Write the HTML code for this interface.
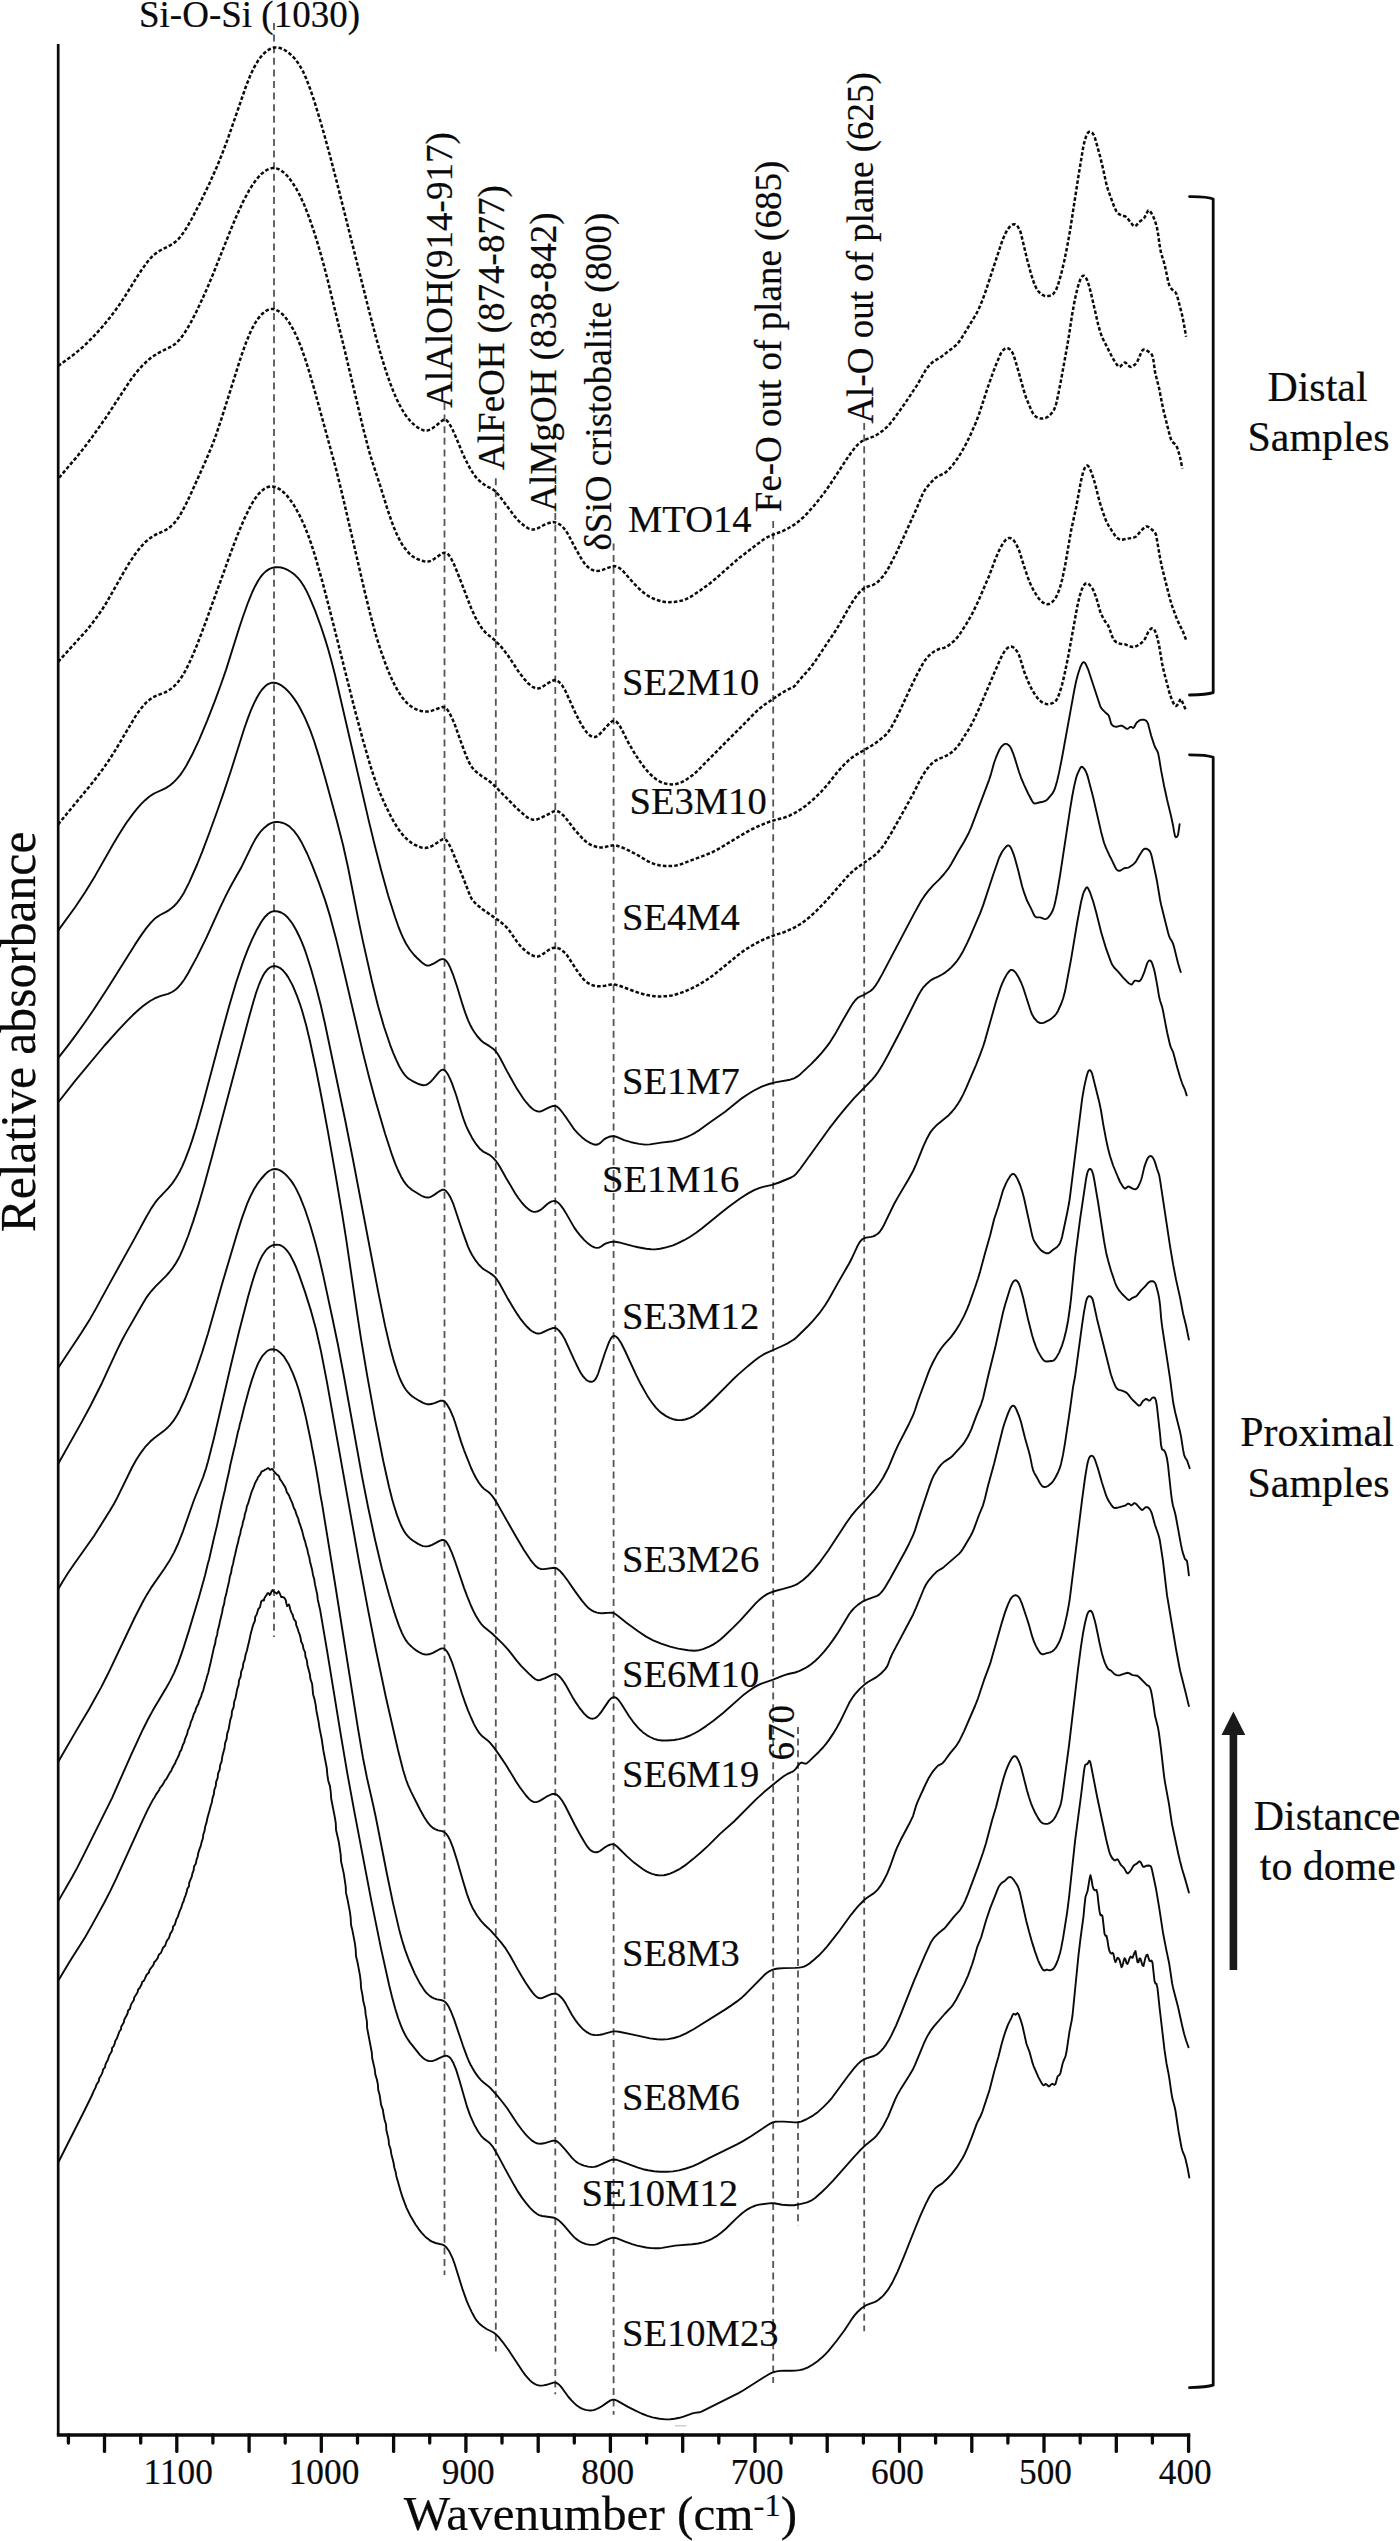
<!DOCTYPE html>
<html lang="en"><head><meta charset="utf-8"><title>FTIR spectra</title>
<style>
html,body{margin:0;padding:0;background:#fff;}
body{width:1400px;height:2541px;overflow:hidden;}
svg{display:block;}
text{font-family:"Liberation Serif",serif;fill:#0a0a0a;stroke:#0a0a0a;stroke-width:0.2px;}
.tk{stroke:#0a0a0a;stroke-width:3.3;fill:none;stroke-linecap:round;}
.dl{stroke:#555;stroke-width:1.8;stroke-dasharray:7 4.6;fill:none;}
.cv{stroke:#0a0a0a;stroke-width:1.9;fill:none;stroke-linejoin:round;stroke-linecap:round;}
.dt{stroke:#0a0a0a;stroke-width:2.5;fill:none;stroke-linejoin:round;stroke-dasharray:3.6 2.1;}
.br{stroke:#0a0a0a;stroke-width:2.8;fill:none;stroke-linejoin:round;stroke-linecap:round;}
.s38{font-size:38.6px;}
.s36{font-size:37px;}
.s41{font-size:41.9px;}
.s34{font-size:35.3px;}
.s48{font-size:48px;}
</style></head><body>
<svg width="1400" height="2541" viewBox="0 0 1400 2541">
<rect width="1400" height="2541" fill="#fff"/>

<line class="dl" x1="274" y1="23" x2="274" y2="1637"/>
<line class="dl" x1="444.5" y1="403" x2="444.5" y2="2275"/>
<line class="dl" x1="495.8" y1="478.3" x2="495.8" y2="2351.6"/>
<line class="dl" x1="555.3" y1="513" x2="555.3" y2="2394.3"/>
<line class="dl" x1="613.6" y1="543.5" x2="613.6" y2="2414.7"/>
<line class="dl" x1="773.2" y1="521" x2="773.2" y2="2383"/>
<line class="dl" x1="798" y1="1727" x2="798" y2="2226"/>
<line class="dl" x1="864.2" y1="423" x2="864.2" y2="2331.3"/>
<path class="dt" d="M58.1 366.0L73.1 355.1L82.1 347.7L87.1 343.0L92.1 338.0L97.1 332.7L103.1 325.9L111.1 316.1L118.1 306.6L124.1 297.7L136.1 278.4L142.1 269.2L147.1 262.3L151.1 257.6L154.1 254.7L158.1 251.7L161.1 250.0L170.1 245.4L175.1 242.1L178.1 239.3L180.1 237.1L184.1 231.8L187.1 227.0L191.1 220.0L200.1 202.8L209.1 184.2L217.1 166.3L222.1 154.0L228.1 138.0L246.1 86.0L250.1 75.9L253.1 69.4L255.1 65.6L258.1 60.6L261.1 56.5L264.1 53.3L267.1 50.7L270.1 48.9L273.1 47.8L276.1 47.4L278.1 47.6L280.1 48.0L282.1 48.8L285.1 50.3L288.1 52.4L290.1 54.0L293.1 56.8L295.1 59.0L299.1 64.4L303.1 71.6L306.1 78.3L310.1 88.7L314.1 100.5L319.1 116.8L324.1 134.1L330.1 156.1L338.1 187.1L369.1 311.0L375.1 334.0L380.1 352.0L384.1 365.3L387.1 374.5L390.1 383.0L393.1 390.7L396.1 397.8L399.1 404.1L402.1 409.6L405.1 414.4L407.1 417.2L410.1 420.8L412.1 422.9L415.1 425.6L417.1 427.1L420.1 429.0L423.1 430.2L425.1 430.6L427.1 430.6L430.1 429.6L432.1 428.5L435.1 426.4L441.1 421.4L443.1 420.0L444.1 419.7L445.1 419.6L446.1 420.0L447.1 420.8L449.1 423.3L452.1 428.6L456.1 437.5L462.1 452.2L465.1 458.9L470.1 468.5L474.1 474.9L476.1 477.4L478.1 479.6L482.1 483.1L486.1 485.9L492.1 488.9L494.1 490.2L496.1 492.1L499.1 495.6L515.1 516.9L518.1 520.3L522.1 524.1L525.1 526.4L528.1 528.3L531.1 529.4L533.1 529.6L536.1 529.0L538.1 528.2L544.1 524.9L548.1 523.3L551.1 522.4L553.1 522.1L555.1 522.3L558.1 523.4L560.1 524.7L562.1 526.3L564.1 528.5L566.1 531.1L568.1 534.3L575.1 547.7L582.1 560.0L585.1 564.2L587.1 566.3L589.1 568.0L591.1 569.3L593.1 570.2L595.1 570.8L597.1 570.9L599.1 570.7L603.1 569.7L612.1 566.3L614.1 566.1L615.1 566.2L618.1 567.2L620.1 568.5L623.1 571.2L634.1 583.7L639.1 588.7L643.1 592.2L647.1 595.2L650.1 597.0L653.1 598.5L657.1 600.0L661.1 601.2L665.1 601.9L669.1 602.2L674.1 602.0L678.1 601.4L682.1 600.5L686.1 599.1L690.1 597.1L694.1 594.6L700.1 590.5L710.1 583.2L717.1 577.4L739.1 558.0L763.1 539.8L766.1 537.9L768.1 536.8L773.1 534.7L783.1 530.9L787.1 528.9L791.1 526.7L795.1 524.1L799.1 521.1L803.1 517.5L807.1 513.5L816.1 503.3L824.1 493.0L830.1 484.4L848.1 457.0L852.1 451.3L856.1 446.3L859.1 443.2L862.1 441.1L866.1 439.4L873.1 436.7L876.1 435.2L878.1 434.0L883.1 430.4L887.1 426.9L890.1 423.6L894.1 418.5L904.1 404.6L917.1 385.1L925.1 371.0L927.1 368.1L929.1 365.6L931.1 363.5L933.1 361.8L942.1 356.2L953.1 347.7L956.1 345.1L959.1 341.7L962.1 337.2L975.1 315.9L977.1 312.3L979.1 308.1L982.1 301.0L985.1 292.9L1001.1 244.2L1003.1 238.7L1005.1 234.1L1007.1 230.2L1009.1 227.5L1011.1 225.5L1013.1 224.4L1014.1 224.2L1015.1 224.4L1016.1 224.9L1017.1 225.7L1018.1 227.0L1020.1 230.9L1021.1 234.1L1027.1 259.2L1031.1 274.2L1034.1 283.3L1036.1 287.8L1037.1 289.5L1038.1 291.0L1040.1 293.2L1042.1 294.7L1044.1 295.7L1046.1 296.1L1049.1 295.9L1051.1 295.4L1053.1 294.1L1055.1 291.5L1056.1 289.7L1058.1 284.8L1061.1 274.3L1064.1 261.7L1067.1 247.0L1070.1 230.3L1078.1 178.3L1083.1 147.9L1084.1 143.2L1086.1 136.3L1087.1 134.0L1088.1 132.5L1089.1 131.8L1090.1 131.7L1091.1 132.0L1092.1 132.7L1093.1 133.9L1094.1 135.7L1095.1 138.3L1100.1 156.4L1103.1 168.9L1106.1 182.8L1108.1 190.1L1114.1 206.5L1116.1 210.8L1117.1 212.4L1119.1 214.2L1122.1 215.9L1125.1 216.3L1126.1 216.8L1127.1 217.8L1132.1 224.3L1133.1 225.5L1134.1 226.3L1135.1 226.3L1136.1 225.6L1139.1 222.0L1143.1 219.1L1144.1 218.1L1145.1 216.5L1148.1 210.5L1149.1 210.6L1150.1 211.4L1151.1 212.6L1153.1 216.2L1155.1 221.0L1157.1 228.2L1158.1 234.1L1160.1 248.5L1161.1 253.1L1164.1 262.9L1165.1 266.8L1168.1 281.0L1169.1 284.7L1170.1 287.1L1171.1 288.4L1173.1 290.6L1175.1 291.9L1176.1 293.2L1177.1 295.6L1182.1 315.0L1184.1 325.1L1186.1 336.8"/>
<path class="dt" d="M59.1 477.7L77.1 456.5L84.1 447.7L92.1 437.1L105.1 418.7L130.1 380.8L135.1 374.0L139.1 369.2L142.1 365.9L146.1 362.0L150.1 358.5L153.1 356.3L159.1 352.6L171.1 346.7L175.1 344.0L179.1 340.2L183.1 335.1L187.1 329.0L191.1 321.9L196.1 312.2L202.1 299.5L207.1 288.3L213.1 274.0L230.1 231.4L236.1 216.9L243.1 201.6L249.1 190.4L253.1 184.0L257.1 178.6L261.1 174.3L265.1 171.0L267.1 169.8L269.1 168.9L272.1 168.1L275.1 168.1L277.1 168.6L279.1 169.4L281.1 170.5L283.1 172.0L287.1 175.7L289.1 178.1L292.1 182.1L296.1 188.4L300.1 195.8L304.1 204.6L308.1 214.6L313.1 228.8L317.1 241.5L320.1 251.7L324.1 266.3L328.1 281.8L345.1 351.9L363.1 428.1L369.1 451.2L372.1 461.1L380.1 485.4L387.1 508.1L391.1 520.0L394.1 527.9L397.1 534.9L400.1 540.9L403.1 546.0L407.1 551.2L409.1 553.3L412.1 555.9L414.1 557.3L417.1 558.9L421.1 560.5L424.1 561.3L426.1 561.6L428.1 561.6L431.1 560.8L434.1 559.0L441.1 554.1L443.1 553.0L445.1 552.7L446.1 552.9L447.1 553.4L448.1 554.2L449.1 555.4L451.1 558.5L454.1 564.6L458.1 574.2L471.1 608.0L475.1 616.8L479.1 624.0L482.1 628.5L485.1 632.1L487.1 634.0L493.1 638.7L495.1 640.5L499.1 644.6L503.1 649.1L508.1 655.7L519.1 672.4L524.1 678.8L528.1 683.3L531.1 685.9L533.1 687.2L536.1 688.3L538.1 688.4L540.1 688.0L542.1 687.1L548.1 683.1L551.1 681.3L553.1 680.4L555.1 680.1L556.1 680.2L557.1 680.6L559.1 682.0L562.1 685.3L565.1 690.3L575.1 712.3L579.1 720.4L582.1 725.7L585.1 730.3L587.1 732.8L590.1 735.7L592.1 736.8L594.1 737.1L595.1 737.0L596.1 736.7L598.1 735.5L600.1 733.7L609.1 723.8L611.1 722.0L612.1 721.3L613.1 720.9L614.1 720.8L615.1 721.0L616.1 721.5L618.1 723.5L620.1 726.4L622.1 730.1L628.1 742.2L635.1 754.2L642.1 764.6L647.1 770.8L650.1 774.0L653.1 776.8L656.1 779.2L659.1 781.1L662.1 782.6L665.1 783.5L669.1 784.3L672.1 784.4L675.1 784.2L677.1 783.8L681.1 782.4L684.1 780.9L687.1 779.1L693.1 774.8L698.1 770.3L707.1 761.0L745.1 722.9L754.1 713.7L759.1 709.0L765.1 704.3L781.1 693.5L786.1 690.5L793.1 687.2L795.1 685.6L800.1 679.3L810.1 668.2L815.1 661.4L836.1 629.8L840.1 623.2L851.1 603.9L854.1 599.3L858.1 593.9L861.1 590.5L864.1 588.2L867.1 586.8L873.1 584.9L876.1 583.3L879.1 580.7L883.1 576.1L886.1 571.9L889.1 567.0L896.1 553.4L903.1 538.4L917.1 507.3L922.1 495.3L923.1 493.1L925.1 489.7L927.1 487.0L931.1 482.3L935.1 478.2L938.1 476.2L944.1 473.5L946.1 472.0L949.1 469.1L953.1 464.5L957.1 459.0L961.1 452.8L965.1 445.7L970.1 435.7L976.1 422.1L979.1 413.9L988.1 386.4L993.1 372.3L996.1 364.5L1000.1 354.9L1001.1 353.0L1003.1 350.2L1005.1 348.6L1006.1 348.2L1007.1 348.1L1008.1 348.3L1009.1 348.8L1010.1 349.6L1011.1 350.6L1012.1 352.1L1013.1 354.0L1014.1 356.7L1017.1 366.6L1024.1 391.5L1026.1 397.7L1031.1 409.7L1033.1 413.7L1034.1 415.2L1036.1 416.9L1038.1 417.8L1041.1 418.6L1043.1 418.5L1046.1 417.7L1048.1 416.7L1050.1 414.9L1052.1 412.7L1054.1 409.6L1055.1 407.3L1056.1 404.1L1058.1 395.2L1061.1 379.7L1067.1 346.7L1069.1 334.7L1072.1 314.8L1074.1 303.5L1076.1 293.8L1078.1 286.0L1080.1 280.0L1081.1 277.9L1082.1 276.4L1083.1 275.7L1084.1 275.7L1085.1 276.5L1086.1 278.0L1087.1 280.1L1089.1 285.9L1091.1 293.7L1098.1 324.3L1100.1 331.6L1102.1 337.3L1112.1 357.0L1115.1 362.2L1118.1 366.3L1119.1 366.9L1120.1 366.6L1124.1 362.9L1125.1 362.5L1126.1 363.1L1128.1 365.6L1130.1 366.8L1131.1 366.9L1133.1 366.0L1135.1 364.5L1137.1 362.1L1141.1 352.8L1142.1 350.9L1143.1 349.7L1144.1 349.5L1145.1 349.6L1146.1 350.0L1151.1 353.5L1152.1 355.1L1153.1 357.9L1155.1 372.4L1159.1 388.3L1163.1 408.9L1170.1 436.7L1171.1 439.6L1172.1 441.5L1173.1 442.6L1175.1 444.2L1176.1 445.4L1177.1 447.4L1178.1 450.2L1180.1 457.4L1182.4 468.6"/>
<path class="dt" d="M58.1 661.8L85.1 632.0L91.1 624.8L97.1 616.8L102.1 609.6L107.1 601.6L123.1 573.3L129.1 563.2L135.1 554.2L140.1 547.7L145.1 542.2L150.1 538.1L155.1 535.0L166.1 529.8L170.1 527.1L173.1 524.3L175.1 522.1L177.1 519.5L180.1 515.0L185.1 505.9L190.1 495.5L206.1 459.9L212.1 445.6L216.1 434.7L221.1 419.8L241.1 356.5L246.1 342.4L250.1 332.8L252.1 328.6L255.1 323.1L258.1 318.6L261.1 314.9L264.1 312.1L267.1 310.2L270.1 309.2L272.1 309.0L274.1 309.2L276.1 309.9L278.1 310.9L280.1 312.2L283.1 314.8L285.1 317.0L289.1 322.4L293.1 329.2L297.1 337.4L301.1 347.2L305.1 358.6L309.1 371.3L314.1 388.6L336.1 469.2L342.1 493.7L365.1 593.2L370.1 613.5L374.1 628.7L377.1 639.1L380.1 648.6L386.1 665.5L389.1 672.9L392.1 679.7L395.1 685.8L398.1 691.2L402.1 697.3L404.1 699.8L407.1 703.1L410.1 705.7L412.1 707.1L415.1 708.8L418.1 710.1L421.1 711.0L423.1 711.3L427.1 711.6L429.1 711.4L432.1 710.6L436.1 709.3L440.1 707.6L442.1 707.1L444.1 707.2L446.1 708.4L447.1 709.4L449.1 712.3L452.1 718.2L455.1 725.5L462.1 745.1L466.1 755.6L469.1 762.5L472.1 767.5L475.1 770.8L478.1 773.4L482.1 776.4L488.1 780.2L492.1 783.5L497.1 788.3L516.1 807.7L525.1 815.7L528.1 817.9L530.1 819.0L533.1 819.8L535.1 819.8L537.1 819.4L540.1 818.2L547.1 814.9L553.1 811.6L555.1 811.0L556.1 811.0L558.1 811.4L559.1 811.9L561.1 813.3L564.1 816.2L567.1 819.8L575.1 830.3L583.1 839.1L586.1 841.8L588.1 843.3L590.1 844.5L593.1 845.9L597.1 847.0L600.1 847.4L602.1 847.4L605.1 847.0L610.1 845.7L612.1 845.4L614.1 845.3L617.1 845.8L622.1 847.5L629.1 850.6L638.1 855.4L648.1 861.4L651.1 862.8L654.1 863.9L659.1 865.2L665.1 866.1L671.1 866.1L676.1 865.5L679.1 864.8L683.1 863.5L693.1 859.6L706.1 854.8L712.1 852.3L720.1 848.0L745.1 832.9L752.1 829.1L760.1 825.4L769.1 821.9L775.1 820.0L784.1 817.7L789.1 815.8L794.1 813.3L798.1 811.0L802.1 808.4L806.1 805.5L814.1 798.7L821.1 791.8L827.1 785.1L838.1 771.2L844.1 764.7L849.1 759.9L852.1 757.5L855.1 755.4L871.1 746.0L875.1 743.4L884.1 736.4L886.1 734.5L888.1 732.2L891.1 727.7L895.1 720.4L899.1 712.4L910.1 688.7L917.1 674.3L922.1 665.0L925.1 660.2L927.1 657.6L929.1 655.5L932.1 652.9L934.1 651.5L936.1 650.4L939.1 649.0L944.1 647.9L946.1 647.0L949.1 645.1L953.1 641.8L956.1 638.9L959.1 635.2L967.1 622.7L972.1 613.9L978.1 601.5L989.1 575.9L995.1 559.8L999.1 550.5L1001.1 546.6L1003.1 543.2L1005.1 540.6L1006.1 539.5L1008.1 538.3L1009.1 538.1L1010.1 538.1L1011.1 538.4L1012.1 539.0L1014.1 540.9L1016.1 543.9L1019.1 550.4L1025.1 569.5L1028.1 578.1L1030.1 583.2L1032.1 587.5L1034.1 591.2L1037.1 596.2L1039.1 598.9L1041.1 601.1L1043.1 602.7L1045.1 603.8L1047.1 604.3L1049.1 604.0L1050.1 603.5L1052.1 602.1L1054.1 600.0L1056.1 597.0L1058.1 592.9L1060.1 587.2L1062.1 579.7L1065.1 565.7L1071.1 530.5L1076.1 507.5L1081.1 480.4L1083.1 472.2L1084.1 469.4L1085.1 467.2L1086.1 465.8L1087.1 465.4L1088.1 465.9L1089.1 467.4L1091.1 471.5L1092.1 474.2L1095.1 483.8L1098.1 496.1L1100.1 503.4L1103.1 512.8L1106.1 520.9L1108.1 524.8L1112.1 531.2L1115.1 535.6L1117.1 537.8L1119.1 539.2L1120.1 539.6L1122.1 539.8L1127.1 538.7L1132.1 538.0L1134.1 537.5L1136.1 536.5L1137.1 535.6L1140.1 531.8L1143.1 528.7L1145.1 526.9L1146.1 526.5L1147.1 526.4L1148.1 526.8L1149.1 527.3L1154.1 531.4L1155.1 532.8L1156.1 535.0L1160.1 558.2L1162.1 567.8L1170.1 599.5L1172.1 605.9L1176.1 616.9L1179.1 623.9L1183.1 631.9L1186.1 640.0"/>
<path class="dt" d="M58.1 824.4L90.1 785.6L97.1 776.8L103.1 768.7L109.1 760.0L115.1 750.6L135.1 716.9L139.1 711.0L143.1 705.9L146.1 702.7L148.1 700.8L152.1 697.8L156.1 695.8L165.1 692.4L168.1 690.8L171.1 688.8L174.1 686.2L177.1 683.1L180.1 679.3L182.1 676.3L185.1 671.3L189.1 663.4L193.1 654.5L197.1 644.8L204.1 626.4L233.1 546.4L239.1 531.0L245.1 517.1L249.1 508.9L252.1 503.4L255.1 498.5L258.1 494.5L261.1 491.3L264.1 488.9L267.1 487.3L270.1 486.5L272.1 486.5L274.1 486.8L276.1 487.4L279.1 488.9L281.1 490.2L284.1 492.8L287.1 495.9L289.1 498.3L294.1 505.5L299.1 514.4L304.1 525.0L308.1 535.0L311.1 543.5L315.1 556.0L322.1 580.6L330.1 611.3L355.1 710.9L363.1 740.7L370.1 764.8L373.1 774.2L376.1 782.9L379.1 790.7L382.1 797.9L386.1 806.7L390.1 814.9L393.1 820.5L397.1 827.2L399.1 830.1L402.1 834.1L405.1 837.4L408.1 840.2L411.1 842.6L414.1 844.5L418.1 846.4L421.1 847.4L423.1 847.8L425.1 847.9L428.1 847.6L431.1 846.5L434.1 844.9L440.1 840.8L442.1 839.6L443.1 839.2L444.1 839.1L445.1 839.4L446.1 840.1L447.1 841.2L449.1 844.4L452.1 850.7L465.1 882.7L470.1 895.8L472.1 899.5L475.1 903.0L478.1 905.7L482.1 908.9L498.1 920.1L502.1 923.2L505.1 925.9L507.1 927.9L509.1 930.3L517.1 941.9L520.1 945.7L523.1 948.7L526.1 951.4L529.1 953.6L531.1 954.8L533.1 955.7L535.1 956.3L537.1 956.5L539.1 956.2L542.1 954.7L547.1 951.0L549.1 949.7L552.1 948.3L554.1 947.7L556.1 947.7L558.1 948.2L560.1 949.0L562.1 950.3L565.1 953.0L567.1 955.4L577.1 970.7L581.1 976.3L583.1 978.8L585.1 980.9L588.1 983.2L591.1 984.7L594.1 985.7L597.1 986.2L601.1 986.2L605.1 985.8L611.1 984.5L613.1 984.4L615.1 984.6L619.1 985.6L635.1 991.6L640.1 993.3L647.1 995.1L654.1 996.2L660.1 996.5L666.1 996.2L672.1 995.4L678.1 993.8L685.1 991.3L692.1 988.2L699.1 984.5L706.1 980.3L711.1 976.8L715.1 973.8L740.1 953.4L746.1 949.2L752.1 945.5L760.1 941.1L766.1 938.4L774.1 935.3L784.1 932.2L792.1 928.7L796.1 926.6L800.1 924.2L804.1 921.4L809.1 917.5L816.1 911.2L824.1 903.0L831.1 895.3L847.1 876.8L851.1 872.7L856.1 868.5L874.1 855.8L877.1 853.1L880.1 849.9L885.1 843.2L892.1 831.6L900.1 817.5L913.1 793.9L920.1 780.0L924.1 773.2L927.1 768.9L931.1 764.2L933.1 762.4L935.1 760.9L939.1 758.7L944.1 756.8L946.1 755.8L949.1 754.2L951.1 752.8L955.1 749.2L959.1 744.5L968.1 730.3L971.1 725.1L974.1 719.3L979.1 708.5L994.1 673.3L1001.1 657.4L1004.1 652.0L1006.1 649.3L1007.1 648.3L1008.1 647.6L1010.1 646.7L1011.1 646.6L1012.1 646.8L1013.1 647.2L1015.1 648.8L1017.1 651.4L1019.1 655.3L1020.1 658.1L1024.1 671.5L1028.1 681.6L1031.1 687.9L1034.1 693.2L1037.1 697.5L1039.1 699.9L1041.1 701.6L1043.1 702.9L1046.1 703.9L1048.1 704.2L1050.1 703.9L1053.1 702.9L1055.1 701.6L1056.1 700.5L1057.1 698.9L1058.1 696.8L1060.1 691.3L1062.1 684.5L1064.1 676.3L1068.1 657.1L1077.1 607.4L1079.1 598.4L1081.1 591.4L1082.1 588.7L1083.1 586.6L1084.1 585.0L1085.1 583.9L1086.1 583.3L1087.1 583.2L1088.1 583.6L1089.1 584.3L1091.1 586.5L1093.1 589.7L1096.1 597.1L1100.1 611.3L1101.1 614.0L1103.1 618.0L1105.1 621.4L1108.1 625.5L1109.1 627.5L1112.1 636.3L1113.1 638.7L1114.1 640.2L1116.1 642.0L1119.1 643.4L1120.1 643.7L1125.1 644.3L1131.1 646.8L1133.1 647.1L1135.1 646.7L1137.1 645.8L1140.1 644.0L1143.1 641.4L1145.1 638.7L1148.1 632.2L1150.1 629.6L1151.1 628.7L1152.1 628.2L1153.1 628.3L1154.1 629.3L1155.1 631.1L1157.1 636.8L1159.1 645.4L1162.1 663.5L1164.1 672.6L1169.1 691.4L1170.1 694.9L1172.1 700.4L1174.1 704.5L1175.1 705.8L1176.1 706.1L1177.1 705.3L1178.1 703.9L1179.1 702.2L1180.1 699.7L1181.1 699.1L1186.1 710.7"/>
<path class="cv" d="M58.1 930.6L75.1 907.2L85.1 892.3L95.1 875.9L113.1 844.3L119.1 834.2L126.1 823.3L133.1 813.6L137.1 808.7L141.1 804.2L145.1 800.2L149.1 796.8L152.1 794.7L155.1 793.0L163.1 789.4L166.1 787.9L170.1 785.3L173.1 782.8L177.1 778.7L180.1 775.1L183.1 770.8L186.1 766.0L192.1 754.8L199.1 739.8L207.1 720.8L215.1 700.3L221.1 684.0L226.1 669.6L239.1 628.3L243.1 616.2L248.1 602.3L252.1 592.5L255.1 586.2L258.1 580.7L260.1 577.7L263.1 573.9L266.1 571.1L269.1 569.1L272.1 567.9L275.1 567.2L278.1 567.1L281.1 567.5L284.1 568.4L288.1 570.2L292.1 572.7L295.1 575.1L298.1 578.1L300.1 580.5L304.1 586.6L306.1 590.2L309.1 596.4L315.1 610.7L321.1 627.0L325.1 639.1L328.1 649.0L331.1 659.7L335.1 675.3L369.1 822.1L375.1 846.8L381.1 870.1L388.1 895.2L395.1 917.3L398.1 925.8L401.1 933.4L403.1 937.9L406.1 943.8L410.1 950.0L414.1 955.0L417.1 958.0L421.1 961.8L423.1 963.4L425.1 964.8L427.1 965.5L428.1 965.6L430.1 965.2L434.1 963.4L439.1 960.2L441.1 959.3L442.1 959.1L443.1 959.1L444.1 959.3L445.1 959.9L447.1 962.0L448.1 963.5L450.1 967.4L453.1 974.8L457.1 986.7L462.1 1003.2L465.1 1012.4L468.1 1020.3L470.1 1024.7L472.1 1028.5L474.1 1031.7L477.1 1036.0L481.1 1040.5L484.1 1042.9L489.1 1045.9L493.1 1048.8L495.1 1050.6L497.1 1053.1L500.1 1058.0L507.1 1071.4L517.1 1089.1L523.1 1098.2L526.1 1102.2L529.1 1105.7L532.1 1108.5L534.1 1110.0L537.1 1111.3L539.1 1111.6L540.1 1111.5L542.1 1110.9L548.1 1107.9L551.1 1106.6L553.1 1106.0L555.1 1105.9L557.1 1106.7L559.1 1108.4L562.1 1112.0L566.1 1117.5L573.1 1127.8L575.1 1130.3L578.1 1133.6L582.1 1137.4L586.1 1140.5L590.1 1142.9L593.1 1144.2L596.1 1144.7L598.1 1144.3L600.1 1143.1L604.1 1139.4L606.1 1138.1L609.1 1136.8L612.1 1136.2L614.1 1136.3L616.1 1136.7L624.1 1140.2L631.1 1142.2L639.1 1143.9L645.1 1144.6L650.1 1144.4L661.1 1142.6L673.1 1141.2L678.1 1140.0L683.1 1138.4L687.1 1136.9L691.1 1135.0L695.1 1132.8L698.1 1130.9L709.1 1122.9L725.1 1111.7L742.1 1098.1L747.1 1094.7L753.1 1091.0L761.1 1086.9L765.1 1085.3L769.1 1084.0L775.1 1082.4L790.1 1079.7L794.1 1078.4L797.1 1076.7L800.1 1074.4L811.1 1064.1L816.1 1059.0L822.1 1052.3L826.1 1047.4L830.1 1042.1L835.1 1034.1L843.1 1019.8L850.1 1007.8L853.1 1003.1L855.1 1000.5L857.1 998.4L858.1 997.6L860.1 996.5L864.1 994.8L870.1 991.3L873.1 988.7L875.1 986.2L878.1 981.5L882.1 974.4L914.1 913.6L921.1 901.0L924.1 896.4L928.1 891.2L933.1 885.4L939.1 879.6L944.1 874.0L948.1 868.9L951.1 864.3L958.1 851.8L964.1 841.8L968.1 834.3L971.1 827.7L989.1 779.8L991.1 773.6L994.1 762.8L996.1 757.2L999.1 750.3L1001.1 747.1L1002.1 745.9L1004.1 744.3L1005.1 743.9L1006.1 743.9L1007.1 744.1L1008.1 744.7L1009.1 745.6L1010.1 746.7L1011.1 748.4L1013.1 753.3L1015.1 759.1L1019.1 772.3L1021.1 777.8L1024.1 784.8L1028.1 793.5L1032.1 801.0L1033.1 802.5L1034.1 803.3L1035.1 803.5L1036.1 803.4L1039.1 802.5L1043.1 801.7L1045.1 801.0L1046.1 800.5L1048.1 798.7L1052.1 793.9L1054.1 790.5L1055.1 787.9L1057.1 781.0L1059.1 772.4L1062.1 757.2L1074.1 691.2L1076.1 681.3L1078.1 673.7L1080.1 667.7L1082.1 663.4L1083.1 662.3L1084.1 662.2L1085.1 663.1L1086.1 664.8L1088.1 669.3L1100.1 705.8L1101.1 707.8L1102.1 709.2L1105.1 712.2L1108.1 714.8L1109.1 716.4L1111.1 723.6L1112.1 725.0L1113.1 725.9L1114.1 726.4L1116.1 726.8L1117.1 726.7L1120.1 725.8L1121.1 725.7L1122.1 725.8L1123.1 726.3L1126.1 728.5L1127.1 728.9L1128.1 728.6L1130.1 726.9L1131.1 726.9L1133.1 728.0L1134.1 727.3L1136.1 723.5L1137.1 722.2L1139.1 720.7L1140.1 720.2L1142.1 719.7L1144.1 719.8L1145.1 720.1L1146.1 720.7L1147.1 721.8L1148.1 723.9L1151.1 735.5L1154.1 744.6L1155.1 747.3L1157.1 750.7L1158.1 753.1L1159.1 758.1L1161.1 770.4L1164.1 786.0L1167.1 799.8L1171.1 816.2L1173.1 825.7L1174.1 831.9L1175.1 836.3L1176.1 837.2L1177.1 836.6L1178.1 834.6L1179.6 824.3"/>
<path class="cv" d="M58.1 1058.1L68.1 1045.3L76.1 1034.6L84.1 1023.5L93.1 1010.5L108.1 987.6L135.1 944.4L141.1 935.4L146.1 928.4L151.1 922.3L154.1 919.3L156.1 917.6L160.1 915.0L166.1 911.9L169.1 910.1L172.1 907.8L174.1 906.0L177.1 902.8L179.1 900.2L182.1 895.8L184.1 892.4L189.1 882.6L197.1 864.5L202.1 852.2L209.1 833.5L217.1 811.5L224.1 791.4L231.1 770.3L244.1 729.0L248.1 717.6L251.1 709.9L254.1 703.1L257.1 697.2L260.1 692.3L262.1 689.5L265.1 686.3L267.1 684.7L269.1 683.6L272.1 682.7L274.1 682.7L277.1 683.3L279.1 684.2L282.1 685.9L285.1 688.3L288.1 691.2L291.1 694.6L294.1 698.6L297.1 703.1L300.1 708.2L305.1 718.1L310.1 729.9L314.1 741.0L319.1 756.9L325.1 777.8L337.1 821.7L343.1 845.3L348.1 867.7L358.1 918.4L363.1 942.1L372.1 982.0L378.1 1006.2L384.1 1027.0L390.1 1044.8L393.1 1052.6L396.1 1059.7L399.1 1066.0L401.1 1069.6L403.1 1072.7L405.1 1075.3L407.1 1077.4L409.1 1079.0L412.1 1080.8L417.1 1083.3L420.1 1084.5L423.1 1085.2L425.1 1085.1L426.1 1084.8L428.1 1083.8L430.1 1082.3L433.1 1079.2L439.1 1071.9L441.1 1070.2L442.1 1069.8L443.1 1069.7L444.1 1070.0L445.1 1070.7L446.1 1071.8L448.1 1074.8L450.1 1078.8L452.1 1083.6L456.1 1095.0L462.1 1114.7L464.1 1120.7L466.1 1125.8L468.1 1130.3L472.1 1137.9L476.1 1144.2L480.1 1149.1L483.1 1151.6L488.1 1154.1L490.1 1155.3L493.1 1157.9L496.1 1161.2L498.1 1164.0L500.1 1167.3L506.1 1178.0L515.1 1193.2L518.1 1197.7L522.1 1203.0L526.1 1207.3L529.1 1209.8L532.1 1211.4L533.1 1211.7L535.1 1211.9L538.1 1211.2L540.1 1210.2L542.1 1208.7L547.1 1204.2L549.1 1202.8L551.1 1201.7L553.1 1201.1L554.1 1201.0L556.1 1201.4L557.1 1202.0L558.1 1202.7L560.1 1204.7L563.1 1208.6L566.1 1213.4L574.1 1227.4L577.1 1231.6L580.1 1235.4L584.1 1239.9L588.1 1243.6L590.1 1245.1L592.1 1246.3L595.1 1247.6L597.1 1247.9L599.1 1247.6L601.1 1246.5L604.1 1244.4L606.1 1243.4L610.1 1242.1L613.1 1241.7L615.1 1241.7L618.1 1242.2L633.1 1246.1L638.1 1247.2L646.1 1248.7L651.1 1249.3L655.1 1249.4L660.1 1248.8L666.1 1247.4L673.1 1245.3L678.1 1243.2L684.1 1240.2L690.1 1236.7L696.1 1232.8L702.1 1228.3L722.1 1212.0L729.1 1206.5L740.1 1198.5L748.1 1193.4L754.1 1190.2L759.1 1188.1L763.1 1186.9L772.1 1184.9L779.1 1182.5L791.1 1177.5L794.1 1175.7L796.1 1173.9L800.1 1169.0L829.1 1128.7L838.1 1117.1L846.1 1107.4L854.1 1098.2L872.1 1079.6L875.1 1076.1L878.1 1072.0L882.1 1065.6L888.1 1054.7L900.1 1031.7L918.1 995.8L921.1 990.6L923.1 987.7L927.1 983.4L931.1 980.1L933.1 978.9L938.1 976.7L942.1 974.5L945.1 972.6L948.1 970.3L951.1 967.6L954.1 964.4L957.1 960.8L959.1 957.9L963.1 951.2L967.1 943.2L970.1 936.6L980.1 913.4L983.1 905.4L993.1 875.0L999.1 857.7L1002.1 851.8L1004.1 849.0L1006.1 846.7L1007.1 845.8L1008.1 845.4L1009.1 845.6L1010.1 846.5L1011.1 848.2L1012.1 850.4L1014.1 855.7L1015.1 859.0L1018.1 870.1L1022.1 886.2L1024.1 892.7L1027.1 900.8L1031.1 908.6L1034.1 915.1L1035.1 916.5L1036.1 917.2L1037.1 917.4L1040.1 917.4L1044.1 918.9L1045.1 919.1L1046.1 918.9L1047.1 918.4L1048.1 917.7L1050.1 915.2L1052.1 911.8L1053.1 909.5L1054.1 906.5L1055.1 902.6L1057.1 892.7L1060.1 875.0L1070.1 809.1L1072.1 797.0L1074.1 786.4L1076.1 778.0L1077.1 774.9L1079.1 770.4L1080.1 768.4L1081.1 767.0L1082.1 766.8L1083.1 767.6L1084.1 768.6L1085.1 770.1L1086.1 772.0L1087.1 774.6L1088.1 777.9L1093.1 797.0L1101.1 831.9L1104.1 843.0L1106.1 848.2L1109.1 854.7L1112.1 860.6L1115.1 867.0L1116.1 868.8L1117.1 870.0L1118.1 870.6L1119.1 870.8L1120.1 870.7L1124.1 868.2L1128.1 867.6L1129.1 867.3L1132.1 865.3L1134.1 863.6L1136.1 861.3L1140.1 854.2L1142.1 851.2L1143.1 849.9L1144.1 849.0L1145.1 848.7L1146.1 848.7L1147.1 849.0L1149.1 850.4L1150.1 851.7L1151.1 854.1L1152.1 858.0L1156.1 876.8L1157.1 881.8L1160.1 900.0L1161.1 904.7L1168.1 932.8L1169.1 936.1L1170.1 938.4L1172.1 941.6L1173.1 943.9L1174.1 947.2L1178.1 963.5L1180.7 972.1"/>
<path class="cv" d="M58.1 1102.5L75.1 1080.8L104.1 1046.0L118.1 1030.3L126.1 1021.9L133.1 1014.8L138.1 1010.2L142.1 1006.8L146.1 1003.7L150.1 1001.0L154.1 998.7L157.1 997.3L160.1 996.2L168.1 993.8L172.1 992.0L175.1 990.0L177.1 988.3L181.1 983.9L184.1 979.8L188.1 973.3L197.1 956.6L206.1 938.4L220.1 907.7L226.1 895.1L231.1 885.5L241.1 867.8L252.1 845.1L255.1 839.6L257.1 836.4L260.1 832.2L264.1 827.9L267.1 825.4L269.1 824.1L271.1 823.2L274.1 822.2L276.1 822.0L278.1 821.9L282.1 822.7L285.1 823.8L288.1 825.6L290.1 827.1L294.1 831.1L298.1 836.5L302.1 843.3L307.1 853.5L312.1 865.2L319.1 883.2L325.1 900.1L330.1 916.4L336.1 938.9L344.1 972.0L363.1 1053.4L369.1 1077.3L375.1 1099.4L385.1 1133.8L392.1 1155.2L395.1 1163.3L398.1 1170.5L401.1 1176.7L404.1 1181.7L406.1 1184.3L408.1 1186.6L412.1 1190.0L421.1 1195.5L423.1 1196.5L425.1 1197.2L428.1 1197.5L430.1 1197.1L431.1 1196.7L434.1 1194.9L440.1 1190.8L442.1 1189.8L443.1 1189.6L444.1 1189.8L445.1 1190.2L446.1 1191.1L448.1 1193.5L450.1 1196.7L453.1 1203.3L463.1 1233.2L468.1 1246.8L470.1 1251.3L472.1 1255.0L476.1 1261.2L479.1 1265.0L482.1 1267.9L484.1 1269.5L489.1 1272.5L492.1 1274.6L494.1 1276.2L496.1 1278.3L499.1 1282.7L507.1 1297.4L513.1 1307.6L517.1 1313.9L520.1 1318.3L524.1 1323.4L527.1 1326.8L530.1 1329.7L532.1 1331.2L534.1 1332.4L536.1 1333.2L538.1 1333.5L539.1 1333.5L541.1 1333.1L549.1 1329.3L553.1 1328.0L555.1 1328.0L556.1 1328.4L557.1 1328.9L559.1 1330.7L562.1 1334.6L565.1 1339.8L574.1 1359.7L579.1 1370.0L581.1 1373.5L583.1 1376.4L586.1 1379.7L588.1 1381.0L589.1 1381.5L591.1 1381.8L592.1 1381.7L593.1 1381.3L594.1 1380.6L595.1 1379.6L596.1 1378.1L598.1 1373.8L605.1 1352.5L609.1 1341.9L611.1 1338.1L612.1 1336.8L613.1 1336.1L614.1 1335.9L615.1 1336.1L616.1 1336.6L618.1 1338.5L621.1 1343.0L625.1 1351.0L636.1 1374.8L641.1 1384.8L647.1 1395.4L650.1 1400.0L653.1 1404.2L656.1 1407.8L659.1 1410.9L662.1 1413.4L666.1 1416.1L670.1 1418.1L673.1 1419.2L677.1 1420.0L680.1 1420.1L682.1 1420.0L685.1 1419.5L690.1 1417.9L694.1 1415.8L699.1 1412.3L704.1 1408.0L712.1 1400.5L732.1 1380.3L738.1 1374.6L748.1 1365.9L754.1 1361.0L759.1 1357.3L763.1 1354.7L766.1 1353.1L781.1 1346.5L787.1 1343.6L793.1 1340.0L795.1 1338.6L797.1 1336.8L808.1 1326.0L813.1 1320.6L820.1 1312.3L825.1 1305.3L829.1 1298.8L838.1 1282.6L849.1 1263.5L852.1 1257.7L857.1 1246.8L859.1 1243.1L860.1 1241.6L862.1 1239.4L864.1 1238.2L866.1 1237.6L871.1 1236.9L873.1 1236.3L875.1 1235.5L878.1 1233.5L880.1 1231.3L882.1 1228.4L884.1 1224.7L894.1 1204.0L898.1 1196.9L908.1 1180.0L913.1 1171.0L916.1 1164.3L923.1 1146.9L927.1 1138.2L930.1 1132.7L933.1 1128.8L937.1 1124.7L948.1 1115.8L952.1 1111.5L955.1 1107.8L958.1 1103.6L960.1 1100.3L963.1 1094.6L966.1 1088.2L976.1 1064.8L980.1 1054.7L983.1 1046.5L985.1 1040.1L996.1 1001.2L1000.1 988.9L1002.1 983.7L1004.1 979.3L1007.1 973.9L1009.1 971.3L1010.1 970.4L1011.1 969.9L1012.1 969.9L1013.1 970.3L1015.1 972.0L1016.1 973.2L1018.1 976.4L1021.1 982.5L1023.1 987.5L1031.1 1012.2L1032.1 1014.5L1034.1 1018.0L1037.1 1021.4L1038.1 1022.2L1040.1 1023.0L1042.1 1023.1L1044.1 1022.6L1048.1 1020.7L1051.1 1018.9L1054.1 1016.3L1056.1 1014.0L1058.1 1010.7L1061.1 1004.0L1063.1 998.5L1065.1 991.1L1071.1 959.1L1077.1 923.0L1081.1 901.8L1083.1 894.0L1084.1 891.5L1086.1 887.8L1087.1 887.2L1088.1 888.3L1090.1 892.5L1093.1 901.2L1096.1 912.1L1101.1 931.9L1106.1 948.7L1111.1 962.4L1112.1 964.5L1114.1 967.5L1118.1 971.6L1123.1 977.6L1127.1 981.7L1129.1 983.5L1131.1 984.5L1132.1 984.3L1134.1 981.2L1135.1 980.6L1136.1 980.6L1138.1 981.2L1139.1 981.2L1140.1 980.6L1141.1 979.3L1142.1 977.4L1144.1 972.7L1147.1 963.4L1148.1 961.6L1149.1 960.6L1150.1 960.4L1151.1 961.2L1152.1 963.1L1154.1 969.5L1155.1 974.0L1157.1 984.6L1159.1 996.8L1160.1 1000.8L1162.1 1006.9L1163.1 1011.3L1167.1 1032.3L1170.1 1045.2L1171.1 1047.9L1173.1 1052.1L1177.1 1067.0L1180.1 1077.3L1182.1 1083.3L1185.1 1090.2L1186.7 1095.4"/>
<path class="cv" d="M58.1 1368.1L81.1 1333.3L90.1 1318.9L95.1 1310.1L110.1 1282.6L134.1 1239.4L146.1 1217.3L151.1 1208.6L155.1 1202.7L158.1 1198.9L168.1 1188.4L172.1 1183.6L175.1 1179.3L177.1 1176.1L180.1 1170.7L182.1 1166.6L185.1 1159.7L189.1 1149.2L192.1 1140.4L196.1 1127.7L203.1 1103.0L220.1 1039.0L229.1 1006.2L236.1 982.5L243.1 961.6L248.1 948.6L252.1 939.4L257.1 929.2L261.1 922.3L263.1 919.3L265.1 916.7L268.1 913.8L271.1 911.9L273.1 911.3L275.1 911.1L278.1 911.5L281.1 912.5L284.1 914.3L286.1 915.9L288.1 918.0L291.1 921.8L293.1 924.8L296.1 930.0L299.1 936.0L301.1 940.4L304.1 947.9L306.1 953.5L311.1 969.3L316.1 986.9L321.1 1006.6L325.1 1024.3L345.1 1119.8L353.1 1160.3L378.1 1291.4L385.1 1325.9L390.1 1347.3L394.1 1361.9L398.1 1374.0L400.1 1379.0L402.1 1383.3L404.1 1387.0L406.1 1390.0L408.1 1392.4L410.1 1394.5L412.1 1396.2L415.1 1398.3L419.1 1400.7L423.1 1402.8L425.1 1403.7L427.1 1404.2L430.1 1404.2L432.1 1403.8L435.1 1402.9L440.1 1400.8L442.1 1400.6L443.1 1400.8L444.1 1401.4L445.1 1402.2L447.1 1404.7L450.1 1409.8L453.1 1416.8L455.1 1422.5L461.1 1441.9L464.1 1450.3L471.1 1468.0L473.1 1472.4L476.1 1478.2L479.1 1483.1L482.1 1487.0L484.1 1488.9L488.1 1491.8L490.1 1493.5L492.1 1495.8L494.1 1498.6L498.1 1505.1L516.1 1536.8L524.1 1550.2L530.1 1559.3L533.1 1563.2L535.1 1565.4L538.1 1567.9L539.1 1568.4L541.1 1569.0L544.1 1569.1L554.1 1567.8L556.1 1568.2L557.1 1568.7L560.1 1571.1L563.1 1574.5L567.1 1579.8L575.1 1591.4L582.1 1600.9L586.1 1605.7L588.1 1607.7L590.1 1609.3L592.1 1610.6L594.1 1611.6L597.1 1612.6L599.1 1613.0L602.1 1613.2L611.1 1612.6L613.1 1612.9L614.1 1613.3L617.1 1615.2L626.1 1622.4L638.1 1631.3L646.1 1636.6L653.1 1640.3L661.1 1643.6L670.1 1646.7L678.1 1648.6L688.1 1650.3L694.1 1650.7L699.1 1650.2L703.1 1649.1L709.1 1646.7L713.1 1644.6L717.1 1642.0L720.1 1639.7L724.1 1636.2L733.1 1627.6L740.1 1620.6L756.1 1602.9L759.1 1600.1L763.1 1596.8L767.1 1594.1L771.1 1592.3L775.1 1591.0L783.1 1588.9L791.1 1586.6L795.1 1585.1L798.1 1583.6L803.1 1580.0L808.1 1575.5L814.1 1569.2L820.1 1561.8L828.1 1550.8L846.1 1523.3L851.1 1516.2L856.1 1510.1L871.1 1493.9L875.1 1489.4L879.1 1484.0L883.1 1477.7L888.1 1468.3L895.1 1451.7L898.1 1445.1L909.1 1423.7L913.1 1415.2L915.1 1409.7L918.1 1400.5L928.1 1373.4L930.1 1368.4L933.1 1362.0L937.1 1354.6L941.1 1348.5L944.1 1344.6L951.1 1336.9L955.1 1331.4L960.1 1323.4L964.1 1315.9L967.1 1309.2L969.1 1304.1L975.1 1287.3L978.1 1278.2L980.1 1271.6L985.1 1253.1L990.1 1235.4L994.1 1219.3L998.1 1207.3L1003.1 1190.1L1006.1 1183.1L1008.1 1179.4L1010.1 1176.2L1011.1 1175.0L1012.1 1174.2L1013.1 1173.9L1014.1 1174.2L1015.1 1175.1L1017.1 1178.2L1020.1 1185.0L1022.1 1191.0L1024.1 1198.5L1032.1 1235.1L1033.1 1238.5L1034.1 1241.0L1035.1 1242.6L1039.1 1248.2L1041.1 1250.4L1044.1 1252.4L1046.1 1253.2L1047.1 1253.3L1048.1 1253.3L1049.1 1252.9L1050.1 1252.3L1053.1 1249.8L1057.1 1247.0L1059.1 1244.6L1060.1 1242.7L1061.1 1240.1L1062.1 1236.8L1067.1 1213.2L1069.1 1202.8L1070.1 1195.9L1082.1 1099.1L1084.1 1087.4L1086.1 1078.4L1087.1 1074.5L1088.1 1071.6L1089.1 1070.2L1090.1 1070.2L1091.1 1071.4L1092.1 1073.6L1099.1 1101.4L1101.1 1111.0L1103.1 1123.6L1106.1 1139.6L1108.1 1148.8L1110.1 1156.3L1113.1 1165.5L1118.1 1177.5L1120.1 1182.0L1123.1 1186.9L1124.1 1188.0L1125.1 1188.6L1126.1 1188.2L1127.1 1187.2L1128.1 1186.4L1129.1 1186.6L1132.1 1188.4L1134.1 1189.1L1135.1 1189.3L1136.1 1189.1L1137.1 1188.3L1138.1 1186.9L1140.1 1182.7L1141.1 1180.0L1142.1 1176.4L1144.1 1167.9L1145.1 1164.6L1147.1 1159.4L1148.1 1157.7L1149.1 1156.6L1150.1 1156.0L1151.1 1156.1L1152.1 1156.8L1153.1 1158.1L1154.1 1159.9L1155.1 1162.6L1157.1 1169.1L1159.1 1174.7L1160.1 1180.3L1170.1 1246.7L1173.1 1264.4L1176.1 1279.9L1180.1 1297.9L1183.1 1313.8L1186.1 1325.7L1188.9 1339.6"/>
<path class="cv" d="M58.1 1464.0L81.1 1423.1L90.1 1406.5L102.1 1382.7L117.1 1350.2L122.1 1340.0L126.1 1332.6L142.1 1304.7L147.1 1296.6L151.1 1291.3L155.1 1286.8L166.1 1275.8L169.1 1272.5L172.1 1268.7L175.1 1264.4L178.1 1259.3L180.1 1255.3L183.1 1248.7L188.1 1236.0L193.1 1221.6L198.1 1205.9L204.1 1185.5L212.1 1156.3L249.1 1017.1L253.1 1002.7L256.1 992.8L259.1 984.3L261.1 979.6L263.1 975.5L265.1 972.3L267.1 969.8L269.1 968.0L271.1 966.8L272.1 966.5L274.1 966.1L276.1 966.3L278.1 967.0L280.1 968.1L283.1 970.6L286.1 974.1L288.1 977.1L292.1 984.4L294.1 988.8L297.1 996.1L300.1 1004.5L302.1 1010.7L306.1 1025.0L310.1 1041.7L316.1 1069.8L322.1 1100.3L328.1 1132.7L336.1 1178.1L342.1 1213.6L346.1 1238.6L357.1 1313.4L361.1 1339.3L367.1 1375.1L375.1 1419.4L383.1 1460.2L389.1 1487.3L392.1 1499.0L394.1 1506.0L397.1 1515.4L400.1 1523.2L402.1 1527.5L404.1 1531.2L406.1 1534.1L408.1 1536.5L410.1 1538.4L413.1 1540.7L418.1 1543.9L421.1 1545.4L423.1 1546.1L425.1 1546.4L427.1 1546.4L429.1 1546.0L432.1 1544.8L440.1 1540.7L442.1 1540.0L443.1 1539.9L444.1 1540.2L445.1 1540.8L446.1 1541.7L447.1 1543.0L449.1 1546.4L452.1 1553.3L455.1 1561.5L464.1 1588.1L467.1 1596.2L471.1 1606.0L473.1 1610.4L476.1 1616.2L479.1 1621.1L481.1 1623.8L484.1 1627.1L492.1 1633.5L502.1 1643.1L508.1 1649.7L517.1 1661.2L521.1 1665.8L529.1 1673.9L533.1 1677.5L535.1 1679.1L537.1 1680.0L538.1 1680.2L540.1 1680.0L545.1 1678.1L552.1 1674.8L554.1 1674.1L556.1 1674.1L557.1 1674.5L559.1 1676.0L561.1 1678.1L564.1 1682.2L566.1 1685.5L572.1 1696.4L576.1 1702.9L579.1 1707.3L584.1 1713.6L587.1 1716.5L589.1 1717.9L591.1 1718.6L593.1 1718.7L595.1 1718.1L597.1 1716.8L599.1 1714.7L601.1 1712.1L609.1 1700.4L611.1 1698.4L612.1 1697.7L613.1 1697.3L614.1 1697.2L615.1 1697.3L616.1 1697.8L617.1 1698.6L619.1 1700.7L621.1 1703.5L629.1 1716.2L633.1 1721.8L637.1 1726.7L640.1 1729.8L643.1 1732.4L647.1 1735.3L650.1 1737.0L654.1 1738.8L658.1 1740.0L662.1 1740.5L667.1 1740.5L674.1 1740.0L679.1 1739.1L684.1 1737.8L690.1 1735.5L695.1 1733.0L699.1 1730.7L706.1 1726.1L713.1 1721.0L723.1 1713.0L744.1 1694.4L749.1 1690.7L754.1 1687.4L758.1 1685.2L762.1 1683.4L773.1 1679.6L783.1 1675.6L787.1 1674.3L795.1 1672.5L799.1 1671.1L805.1 1668.2L808.1 1666.4L811.1 1664.3L815.1 1661.0L819.1 1657.1L824.1 1651.6L828.1 1646.7L833.1 1639.9L838.1 1632.5L849.1 1614.3L851.1 1611.5L854.1 1608.1L858.1 1604.6L863.1 1601.3L866.1 1599.8L877.1 1595.9L879.1 1594.6L881.1 1592.6L883.1 1590.1L885.1 1587.2L890.1 1578.7L905.1 1551.5L909.1 1543.7L913.1 1535.2L915.1 1529.9L919.1 1517.1L929.1 1487.2L932.1 1479.1L934.1 1474.9L938.1 1468.4L941.1 1464.6L944.1 1461.9L950.1 1457.9L952.1 1456.3L962.1 1445.4L964.1 1442.8L967.1 1438.0L969.1 1434.2L971.1 1429.9L977.1 1413.8L981.1 1404.3L983.1 1398.0L988.1 1376.3L995.1 1348.1L1003.1 1312.0L1005.1 1304.7L1010.1 1288.5L1011.1 1285.8L1013.1 1281.9L1014.1 1280.8L1015.1 1280.3L1016.1 1280.4L1017.1 1281.1L1018.1 1282.3L1019.1 1284.2L1020.1 1286.8L1023.1 1297.3L1028.1 1319.6L1032.1 1335.3L1034.1 1341.7L1036.1 1347.1L1038.1 1351.6L1041.1 1356.9L1043.1 1359.7L1044.1 1360.7L1045.1 1361.3L1047.1 1361.5L1053.1 1360.7L1054.1 1360.2L1056.1 1357.9L1059.1 1352.6L1062.1 1345.3L1064.1 1338.7L1066.1 1330.8L1068.1 1320.5L1070.1 1306.5L1071.1 1297.8L1075.1 1257.7L1080.1 1219.2L1086.1 1178.7L1087.1 1173.8L1088.1 1170.8L1089.1 1169.2L1090.1 1168.9L1091.1 1169.5L1092.1 1171.3L1093.1 1174.3L1094.1 1179.0L1098.1 1202.5L1104.1 1241.4L1106.1 1252.4L1108.1 1260.5L1111.1 1271.0L1115.1 1282.8L1117.1 1287.3L1119.1 1290.4L1122.1 1294.0L1127.1 1298.9L1128.1 1299.7L1129.1 1300.0L1130.1 1299.7L1132.1 1298.1L1133.1 1297.6L1136.1 1296.3L1137.1 1295.4L1141.1 1290.4L1145.1 1286.4L1148.1 1282.9L1150.1 1281.5L1151.1 1281.2L1152.1 1281.2L1153.1 1281.3L1154.1 1281.8L1155.1 1283.0L1156.1 1285.4L1158.1 1293.0L1159.1 1297.9L1160.1 1305.5L1161.1 1317.9L1162.1 1326.4L1170.1 1378.8L1173.1 1402.0L1175.1 1412.0L1180.1 1432.0L1181.1 1436.9L1183.1 1449.9L1184.1 1454.8L1185.1 1457.4L1187.1 1460.5L1189.7 1468.2"/>
<path class="cv" d="M58.0 1589.6L63.0 1581.0L68.0 1573.0L74.0 1564.2L94.0 1536.0L110.0 1510.6L114.0 1503.7L117.0 1498.1L132.0 1467.5L136.0 1460.2L140.0 1453.9L145.0 1447.2L150.0 1441.8L154.0 1438.3L165.0 1429.9L168.0 1427.2L170.0 1425.1L173.0 1421.4L175.0 1418.5L177.0 1415.2L180.0 1409.7L185.0 1399.0L190.0 1386.7L196.0 1370.5L202.0 1352.8L208.0 1333.5L222.0 1284.2L237.0 1233.8L242.0 1217.9L247.0 1204.1L250.0 1197.1L254.0 1189.3L257.0 1184.4L261.0 1179.0L265.0 1174.5L267.0 1172.6L269.0 1171.0L272.0 1169.5L275.0 1169.0L277.0 1169.2L280.0 1170.4L282.0 1171.6L285.0 1173.9L288.0 1177.0L291.0 1180.6L294.0 1185.1L296.0 1188.6L300.0 1196.8L305.0 1209.5L310.0 1224.5L315.0 1241.7L319.0 1257.3L323.0 1274.4L332.0 1316.2L338.0 1345.0L344.0 1376.5L362.0 1476.4L368.0 1506.8L375.0 1539.5L382.0 1569.0L389.0 1594.6L393.0 1608.0L396.0 1617.4L399.0 1625.9L402.0 1633.1L404.0 1637.1L406.0 1640.4L408.0 1643.1L410.0 1645.2L413.0 1647.9L417.0 1650.9L420.0 1652.7L422.0 1653.6L424.0 1654.3L426.0 1654.6L429.0 1654.3L433.0 1652.8L440.0 1649.0L442.0 1648.4L443.0 1648.4L444.0 1648.7L445.0 1649.3L446.0 1650.3L447.0 1651.5L449.0 1655.0L452.0 1662.3L455.0 1671.2L462.0 1693.8L465.0 1702.4L468.0 1710.3L471.0 1717.5L474.0 1724.1L477.0 1729.6L479.0 1732.7L482.0 1736.1L487.0 1739.9L489.0 1741.7L491.0 1743.8L494.0 1747.6L499.0 1754.6L506.0 1765.0L516.0 1781.4L520.0 1787.5L526.0 1795.5L529.0 1798.9L531.0 1800.6L533.0 1801.7L534.0 1802.0L536.0 1802.1L538.0 1801.6L541.0 1800.1L548.0 1795.8L551.0 1794.5L553.0 1793.9L555.0 1794.0L556.0 1794.3L557.0 1794.9L559.0 1796.7L562.0 1800.5L565.0 1805.5L575.0 1825.3L580.0 1834.5L585.0 1843.1L587.0 1846.2L589.0 1848.7L591.0 1850.6L593.0 1851.7L594.0 1852.0L596.0 1852.3L598.0 1852.0L600.0 1851.0L604.0 1847.9L608.0 1845.5L611.0 1844.4L613.0 1844.2L614.0 1844.5L615.0 1844.9L617.0 1846.5L627.0 1856.4L634.0 1862.6L643.0 1869.3L646.0 1871.1L649.0 1872.6L652.0 1873.9L655.0 1874.7L658.0 1875.3L661.0 1875.4L664.0 1875.2L667.0 1874.5L670.0 1873.6L674.0 1871.9L680.0 1868.8L685.0 1865.4L693.0 1859.1L701.0 1852.3L708.0 1845.9L720.0 1833.9L734.0 1821.5L756.0 1799.4L764.0 1792.1L780.0 1779.0L784.0 1776.0L787.0 1774.2L792.0 1771.9L794.0 1770.7L796.0 1768.6L799.0 1764.4L800.0 1763.4L801.0 1762.8L802.0 1762.7L805.0 1763.7L806.0 1763.6L807.0 1763.1L809.0 1761.4L819.0 1751.7L823.0 1747.5L826.0 1743.9L829.0 1739.9L833.0 1733.9L836.0 1729.1L840.0 1721.8L849.0 1703.3L852.0 1698.2L855.0 1694.1L860.0 1688.6L865.0 1684.1L868.0 1682.0L876.0 1677.4L881.0 1673.5L885.0 1669.4L887.0 1666.6L888.0 1664.5L890.0 1659.0L892.0 1654.4L913.0 1614.7L916.0 1607.9L924.0 1588.5L926.0 1584.5L928.0 1581.4L933.0 1575.4L936.0 1572.3L938.0 1570.7L942.0 1568.4L944.0 1566.9L959.0 1553.9L961.0 1551.6L963.0 1548.8L970.0 1537.1L972.0 1533.3L974.0 1528.7L979.0 1515.0L983.0 1505.3L985.0 1498.2L988.0 1485.8L994.0 1464.1L1003.0 1428.0L1005.0 1421.7L1008.0 1413.4L1010.0 1408.8L1011.0 1407.2L1012.0 1406.1L1013.0 1405.6L1014.0 1405.9L1015.0 1407.0L1016.0 1408.7L1019.0 1415.9L1021.0 1422.0L1025.0 1438.0L1029.0 1451.9L1030.0 1455.9L1032.0 1465.9L1033.0 1469.8L1034.0 1472.3L1035.0 1474.3L1037.0 1477.6L1040.0 1483.3L1042.0 1486.0L1043.0 1486.7L1044.0 1487.0L1046.0 1486.9L1048.0 1486.0L1051.0 1483.6L1053.0 1481.3L1055.0 1478.3L1058.0 1472.5L1060.0 1467.4L1061.0 1463.9L1063.0 1454.9L1065.0 1443.2L1070.0 1409.5L1073.0 1387.4L1075.0 1376.8L1082.0 1325.3L1084.0 1311.9L1086.0 1301.5L1087.0 1298.4L1088.0 1296.7L1089.0 1296.1L1090.0 1296.3L1091.0 1296.9L1092.0 1298.2L1093.0 1300.5L1097.0 1318.9L1110.0 1371.1L1111.0 1374.8L1113.0 1380.5L1115.0 1385.4L1116.0 1387.2L1117.0 1388.6L1118.0 1389.4L1119.0 1389.9L1122.0 1390.7L1125.0 1391.9L1127.0 1393.1L1128.0 1394.1L1131.0 1398.1L1133.0 1400.3L1138.0 1405.1L1139.0 1405.7L1140.0 1405.4L1141.0 1404.1L1143.0 1400.9L1145.0 1399.4L1146.0 1399.0L1147.0 1399.2L1149.0 1400.6L1150.0 1400.5L1152.0 1398.0L1153.0 1397.5L1154.0 1397.4L1155.0 1398.1L1156.0 1400.5L1157.0 1406.9L1160.0 1434.0L1161.0 1444.7L1162.0 1449.2L1163.0 1449.9L1164.0 1450.2L1165.0 1451.9L1166.0 1454.5L1167.0 1458.5L1168.0 1465.1L1171.0 1493.0L1172.0 1500.6L1173.0 1505.7L1175.0 1512.8L1176.0 1517.5L1181.0 1544.9L1182.0 1549.5L1183.0 1553.4L1185.0 1559.3L1186.0 1559.9L1187.0 1561.0L1188.0 1567.7L1188.9 1575.4"/>
<path class="cv" d="M58.0 1762.3L76.0 1731.1L89.0 1709.2L101.0 1687.6L108.0 1673.8L135.0 1617.0L143.0 1601.5L147.0 1594.4L151.0 1587.9L164.0 1569.3L169.0 1561.6L174.0 1552.6L178.0 1544.0L183.0 1531.3L194.0 1500.0L203.0 1477.5L206.0 1468.5L208.0 1461.6L214.0 1438.0L231.0 1364.7L239.0 1331.7L248.0 1297.1L252.0 1283.0L255.0 1273.4L258.0 1265.0L260.0 1260.2L262.0 1256.1L265.0 1251.4L267.0 1249.0L270.0 1246.6L273.0 1245.2L276.0 1244.6L279.0 1244.9L281.0 1245.5L283.0 1246.7L285.0 1248.4L287.0 1250.6L289.0 1253.3L291.0 1256.6L294.0 1262.5L296.0 1267.0L299.0 1274.6L305.0 1291.9L311.0 1310.9L316.0 1329.2L321.0 1351.4L327.0 1382.4L359.0 1561.6L368.0 1609.6L376.0 1650.2L386.0 1697.7L398.0 1750.0L403.0 1769.7L406.0 1779.5L408.0 1784.9L411.0 1791.6L420.0 1809.5L424.0 1816.7L428.0 1822.9L431.0 1826.3L433.0 1827.9L435.0 1829.1L438.0 1830.4L442.0 1831.1L444.0 1831.9L446.0 1833.6L448.0 1836.3L450.0 1840.1L453.0 1847.6L457.0 1860.2L463.0 1881.0L467.0 1894.1L470.0 1902.4L473.0 1908.8L477.0 1915.5L481.0 1920.9L484.0 1924.2L490.0 1929.9L495.0 1935.4L501.0 1942.4L505.0 1947.6L510.0 1955.5L517.0 1968.1L522.0 1976.7L526.0 1983.2L530.0 1989.1L533.0 1993.1L535.0 1995.4L537.0 1997.1L539.0 1998.1L540.0 1998.3L542.0 1998.1L550.0 1994.7L552.0 1994.0L554.0 1993.6L556.0 1993.7L557.0 1994.1L559.0 1995.3L562.0 1998.2L564.0 2000.8L566.0 2004.1L572.0 2015.0L575.0 2019.6L578.0 2023.6L581.0 2027.2L583.0 2029.2L586.0 2031.6L589.0 2033.4L591.0 2034.3L593.0 2034.8L595.0 2035.1L597.0 2035.1L600.0 2034.8L603.0 2034.2L612.0 2031.6L614.0 2031.4L616.0 2031.4L619.0 2031.8L633.0 2034.6L650.0 2038.4L657.0 2039.3L662.0 2039.5L668.0 2039.1L674.0 2038.0L680.0 2036.1L686.0 2033.4L694.0 2029.0L725.0 2009.6L731.0 2005.6L737.0 2001.4L742.0 1997.4L746.0 1993.7L764.0 1975.3L767.0 1972.8L770.0 1970.9L772.0 1970.0L774.0 1969.3L778.0 1968.5L784.0 1968.1L795.0 1967.9L799.0 1967.6L802.0 1967.1L804.0 1966.6L806.0 1965.7L810.0 1963.1L814.0 1959.8L819.0 1955.3L823.0 1951.2L827.0 1946.6L838.0 1932.7L851.0 1914.8L856.0 1908.7L860.0 1904.2L865.0 1899.3L867.0 1897.7L874.0 1893.1L876.0 1891.3L878.0 1889.2L881.0 1885.1L883.0 1881.8L887.0 1874.1L890.0 1866.7L895.0 1852.6L897.0 1847.6L901.0 1839.3L909.0 1824.3L913.0 1816.1L916.0 1805.9L918.0 1800.9L925.0 1785.5L929.0 1777.4L932.0 1772.7L935.0 1768.8L938.0 1765.6L942.0 1763.6L943.0 1762.7L945.0 1760.3L950.0 1753.4L956.0 1746.2L959.0 1741.6L964.0 1731.3L975.0 1706.0L978.0 1698.3L984.0 1680.2L990.0 1664.2L1002.0 1622.1L1005.0 1612.4L1008.0 1604.3L1010.0 1600.1L1011.0 1598.4L1012.0 1597.2L1013.0 1596.2L1014.0 1595.6L1015.0 1595.3L1016.0 1595.3L1017.0 1595.7L1018.0 1596.3L1019.0 1597.4L1020.0 1599.0L1022.0 1603.9L1027.0 1618.7L1029.0 1625.1L1032.0 1635.9L1034.0 1641.7L1036.0 1646.1L1038.0 1649.8L1040.0 1652.8L1041.0 1653.7L1042.0 1654.2L1043.0 1654.3L1044.0 1654.1L1046.0 1653.4L1050.0 1652.4L1052.0 1651.5L1054.0 1650.0L1056.0 1647.7L1059.0 1642.6L1061.0 1637.7L1064.0 1627.6L1067.0 1614.6L1069.0 1603.8L1070.0 1597.1L1082.0 1500.3L1085.0 1478.0L1087.0 1465.8L1088.0 1461.2L1089.0 1458.2L1090.0 1456.6L1091.0 1455.9L1092.0 1455.7L1093.0 1456.3L1094.0 1457.7L1095.0 1459.8L1098.0 1468.7L1102.0 1482.7L1106.0 1495.2L1107.0 1497.7L1109.0 1501.5L1111.0 1504.6L1113.0 1507.1L1114.0 1507.8L1115.0 1508.0L1117.0 1507.8L1125.0 1505.7L1127.0 1504.2L1128.0 1503.6L1129.0 1503.8L1131.0 1505.2L1132.0 1505.1L1134.0 1503.3L1135.0 1503.3L1136.0 1503.9L1137.0 1504.8L1141.0 1509.3L1142.0 1510.0L1143.0 1509.6L1145.0 1507.6L1146.0 1507.2L1147.0 1507.2L1148.0 1507.5L1149.0 1508.3L1150.0 1509.6L1151.0 1511.4L1152.0 1513.9L1155.0 1525.0L1158.0 1533.5L1159.0 1536.8L1160.0 1541.3L1163.0 1561.2L1167.0 1595.2L1176.0 1649.0L1180.0 1670.3L1186.0 1694.1L1188.9 1706.1"/>
<path class="cv" d="M58.0 1901.6L72.0 1877.3L77.0 1868.1L83.0 1856.4L112.0 1798.1L131.0 1755.1L143.0 1729.2L148.0 1719.3L153.0 1710.1L166.0 1688.2L170.0 1681.1L174.0 1673.1L178.0 1663.6L183.0 1649.4L189.0 1630.4L199.0 1597.0L205.0 1575.4L207.9 1563.6L209.1 1559.5L213.9 1538.3L217.1 1525.1L221.9 1502.7L225.1 1489.3L226.0 1484.8L229.1 1471.3L229.9 1466.8L234.0 1449.2L235.1 1444.9L237.9 1432.1L239.1 1428.0L239.9 1423.9L241.1 1419.9L244.0 1408.0L249.0 1389.5L252.0 1379.6L255.0 1371.0L257.9 1363.9L261.0 1358.3L262.9 1355.3L267.0 1351.2L268.0 1350.5L270.0 1349.6L272.0 1349.2L275.0 1349.6L277.1 1350.2L280.0 1352.4L284.1 1356.7L289.1 1365.1L293.1 1373.9L296.1 1381.8L299.1 1391.0L303.0 1405.5L306.0 1417.9L311.0 1441.7L311.9 1446.9L313.0 1452.2L316.1 1468.9L319.1 1486.4L319.9 1492.4L322.1 1504.2L335.0 1583.5L358.0 1728.7L363.0 1758.0L367.0 1778.0L373.0 1804.2L376.0 1818.2L387.0 1874.3L393.0 1903.1L399.0 1928.9L402.0 1940.0L405.0 1949.6L409.0 1960.5L415.0 1974.1L420.0 1983.6L424.0 1989.8L426.0 1992.3L428.0 1994.4L430.0 1996.1L432.0 1997.4L434.0 1998.3L437.0 1999.4L442.0 2000.3L444.0 2001.1L446.0 2002.8L447.0 2004.1L449.0 2007.3L451.0 2011.5L454.0 2019.1L463.0 2045.8L467.0 2056.7L469.0 2061.5L471.0 2065.6L475.0 2072.4L478.0 2076.6L481.0 2080.1L483.0 2082.0L488.0 2085.9L490.0 2087.7L497.0 2095.4L502.0 2101.5L507.0 2108.0L517.0 2123.2L522.0 2130.0L526.0 2134.8L529.0 2137.9L532.0 2140.6L534.0 2141.9L536.0 2143.0L538.0 2143.6L541.0 2143.8L544.0 2143.3L553.0 2140.7L555.0 2140.7L556.0 2140.9L558.0 2142.1L560.0 2143.9L565.0 2149.4L572.0 2157.8L574.0 2159.9L576.0 2161.6L578.0 2163.0L581.0 2164.5L584.0 2165.6L588.0 2166.6L592.0 2167.1L594.0 2166.9L596.0 2166.5L599.0 2165.4L610.0 2160.3L612.0 2159.7L614.0 2159.5L616.0 2159.7L619.0 2160.6L638.0 2167.7L643.0 2169.2L648.0 2170.3L654.0 2171.3L660.0 2171.8L667.0 2171.8L673.0 2171.4L679.0 2170.4L686.0 2168.5L693.0 2166.1L699.0 2163.4L710.0 2157.6L737.0 2144.3L743.0 2141.1L751.0 2136.2L769.0 2124.3L772.0 2122.7L775.0 2121.8L778.0 2121.6L784.0 2121.6L795.0 2122.4L798.0 2122.2L801.0 2121.6L806.0 2119.5L813.0 2115.6L818.0 2111.9L823.0 2107.4L828.0 2102.4L832.0 2097.8L848.0 2076.0L854.0 2068.4L858.0 2063.9L861.0 2061.2L864.0 2059.4L867.0 2058.1L874.0 2056.0L877.0 2054.4L879.0 2052.8L881.0 2050.9L883.0 2048.7L886.0 2044.6L889.0 2039.8L891.0 2036.1L896.0 2025.6L901.0 2013.7L914.0 1980.8L925.0 1955.1L931.0 1942.2L933.0 1939.0L935.0 1936.6L939.0 1932.8L944.0 1928.8L946.0 1926.7L954.0 1916.6L960.0 1910.1L963.0 1905.2L965.0 1901.1L968.0 1893.9L978.0 1867.1L983.0 1852.8L986.0 1843.3L992.0 1820.5L996.0 1807.2L1001.0 1787.4L1004.0 1776.7L1006.0 1770.6L1008.0 1765.6L1010.0 1761.4L1012.0 1758.1L1013.0 1756.9L1014.0 1756.2L1015.0 1756.1L1016.0 1756.6L1017.0 1757.8L1019.0 1761.6L1021.0 1767.0L1027.0 1790.4L1029.0 1797.3L1031.0 1803.3L1033.0 1808.2L1035.0 1812.5L1038.0 1817.9L1040.0 1820.9L1041.0 1822.0L1042.0 1822.9L1043.0 1823.4L1045.0 1823.9L1047.0 1823.9L1048.0 1823.7L1050.0 1822.8L1052.0 1821.3L1054.0 1819.0L1056.0 1815.7L1058.0 1811.4L1060.0 1806.4L1061.0 1803.0L1062.0 1797.9L1069.0 1745.7L1078.0 1669.2L1081.0 1646.3L1083.0 1633.3L1085.0 1623.0L1087.0 1615.1L1088.0 1612.6L1089.0 1611.4L1090.0 1610.8L1091.0 1611.0L1092.0 1612.1L1093.0 1614.4L1095.0 1621.5L1096.0 1625.8L1100.0 1645.1L1102.0 1653.7L1104.0 1660.4L1105.0 1663.1L1107.0 1667.3L1108.0 1668.8L1109.0 1669.6L1111.0 1670.7L1114.0 1673.7L1116.0 1674.9L1117.0 1675.2L1118.0 1675.4L1120.0 1675.2L1126.0 1673.2L1128.0 1672.8L1129.0 1673.1L1132.0 1674.8L1133.0 1675.1L1137.0 1675.7L1138.0 1676.2L1139.0 1677.0L1146.0 1684.2L1147.0 1685.1L1149.0 1686.2L1150.0 1687.7L1151.0 1690.8L1152.0 1695.8L1153.0 1701.7L1155.0 1715.8L1158.0 1727.6L1159.0 1733.4L1161.0 1749.2L1164.0 1775.6L1165.0 1782.3L1169.0 1804.1L1172.0 1824.3L1178.0 1852.5L1180.0 1861.0L1182.0 1868.7L1185.0 1878.6L1188.9 1892.5"/>
<path class="cv" d="M58.1 1980.9L69.1 1962.6L85.1 1937.2L92.1 1924.9L104.1 1903.0L110.1 1891.4L116.1 1878.9L143.1 1819.3L148.1 1808.9L153.0 1799.6L154.2 1798.0L156.0 1794.6L159.2 1790.0L159.9 1788.2L162.2 1785.4L164.1 1782.3L164.8 1780.6L166.2 1779.2L170.0 1772.4L171.3 1770.8L172.0 1768.8L174.0 1765.0L175.3 1763.1L175.9 1760.9L177.1 1758.9L179.2 1754.5L179.8 1752.1L181.3 1749.9L182.9 1744.7L184.3 1742.2L184.9 1739.3L187.3 1733.7L187.8 1730.6L189.1 1727.8L190.2 1724.8L190.9 1721.8L192.2 1719.1L193.9 1713.7L195.3 1711.3L195.9 1708.7L197.0 1706.3L198.3 1704.1L198.9 1701.5L201.2 1696.4L201.9 1693.5L203.2 1690.6L204.9 1683.9L206.1 1680.3L207.0 1676.5L208.3 1672.7L209.1 1668.7L210.2 1664.6L213.9 1647.6L215.2 1643.4L215.8 1639.0L217.2 1634.7L217.8 1630.2L219.1 1625.8L219.9 1621.4L222.1 1612.5L222.8 1608.0L224.2 1603.6L224.8 1599.0L226.1 1594.6L227.0 1590.1L229.1 1581.2L229.8 1576.8L231.2 1572.4L231.8 1568.0L233.1 1563.7L233.9 1559.3L235.0 1555.0L236.9 1546.5L238.1 1542.3L238.9 1538.0L240.2 1534.0L240.9 1529.8L242.3 1525.8L243.0 1521.7L244.3 1517.9L244.9 1514.0L246.2 1510.3L246.8 1506.6L248.2 1503.2L250.1 1496.7L252.0 1490.8L253.2 1488.2L255.0 1483.2L256.1 1481.1L257.3 1479.2L257.9 1477.3L260.2 1474.7L261.1 1472.4L262.1 1471.1L263.0 1471.0L263.9 1470.6L265.0 1469.7L266.1 1469.3L268.1 1468.0L269.1 1468.7L270.1 1469.9L272.2 1468.9L273.1 1469.9L273.9 1471.4L276.2 1473.9L277.2 1474.8L278.1 1475.2L279.0 1476.4L279.9 1479.1L282.2 1482.2L283.0 1483.8L285.2 1487.1L286.2 1489.8L286.9 1492.4L288.1 1493.9L289.2 1495.7L290.0 1498.2L292.2 1502.9L293.9 1508.0L295.3 1510.4L296.0 1513.2L297.0 1515.9L298.3 1518.6L298.9 1521.7L300.1 1524.7L302.2 1531.1L303.9 1538.1L305.2 1541.6L306.0 1545.4L307.3 1549.2L308.0 1553.2L309.3 1557.3L310.0 1561.5L312.2 1570.3L313.0 1574.9L314.3 1579.6L315.0 1584.4L317.2 1594.4L317.8 1599.7L320.2 1610.3L327.1 1650.9L340.1 1730.6L347.1 1772.1L354.1 1810.4L371.1 1899.6L381.1 1948.9L389.1 1985.0L392.1 1997.2L395.1 2008.2L398.1 2018.0L401.1 2026.2L403.1 2030.8L405.1 2034.7L407.1 2038.2L410.1 2042.6L420.1 2055.1L423.1 2058.0L425.1 2059.5L427.1 2060.5L429.1 2061.1L432.1 2061.1L435.1 2060.2L443.1 2056.3L445.1 2055.8L447.1 2055.9L448.1 2056.3L450.1 2057.8L451.1 2059.0L453.1 2062.4L456.1 2069.6L459.1 2079.2L467.1 2106.9L470.1 2115.4L474.1 2124.4L478.1 2131.5L481.1 2135.8L484.1 2138.9L488.1 2141.7L490.1 2143.5L493.1 2147.2L497.1 2153.9L505.1 2168.9L514.1 2185.1L518.1 2191.9L522.1 2197.9L526.1 2203.1L530.1 2207.8L534.1 2211.8L537.1 2214.0L539.1 2215.1L542.1 2216.0L551.1 2217.2L554.1 2217.8L556.1 2218.7L558.1 2219.9L561.1 2222.5L564.1 2225.6L571.1 2233.9L574.1 2237.1L576.1 2238.9L579.1 2241.0L582.1 2242.6L586.1 2244.1L590.1 2244.9L593.1 2244.9L595.1 2244.6L597.1 2244.1L605.1 2240.4L610.1 2238.3L612.1 2237.8L614.1 2237.7L617.1 2238.4L625.1 2241.7L632.1 2244.1L637.1 2245.6L646.1 2247.5L651.1 2248.1L655.1 2248.3L659.1 2248.2L662.1 2247.9L675.1 2245.6L692.1 2244.3L698.1 2243.5L703.1 2242.3L708.1 2240.6L712.1 2238.8L716.1 2236.4L721.1 2232.7L726.1 2228.5L736.1 2218.6L742.1 2213.3L747.1 2209.6L750.1 2207.9L753.1 2206.5L756.1 2205.3L759.1 2204.6L771.1 2203.1L774.1 2203.2L782.1 2204.7L789.1 2205.3L794.1 2205.2L799.1 2204.3L807.1 2202.4L811.1 2200.7L815.1 2198.0L822.1 2191.7L827.1 2186.9L833.1 2180.6L854.1 2156.8L860.1 2150.3L865.1 2145.6L873.1 2139.1L876.1 2136.2L879.1 2132.4L883.1 2126.2L888.1 2116.6L895.1 2099.7L897.1 2095.4L901.1 2088.4L909.1 2075.8L913.1 2068.9L915.1 2064.6L924.1 2042.8L926.1 2038.6L928.1 2034.9L931.1 2030.1L934.1 2026.1L945.1 2013.5L951.1 2007.1L953.1 2004.6L956.1 1999.8L964.1 1984.4L968.1 1975.3L972.1 1964.5L974.1 1958.1L977.1 1947.4L981.1 1937.5L986.1 1920.3L990.1 1908.4L998.1 1888.2L999.1 1886.2L1000.1 1884.7L1002.1 1882.6L1005.1 1880.7L1008.1 1877.6L1009.1 1877.1L1010.1 1877.0L1011.1 1877.3L1012.1 1878.0L1014.1 1880.4L1017.1 1885.0L1018.1 1887.0L1019.1 1889.7L1020.1 1893.3L1026.1 1920.2L1029.1 1931.8L1032.1 1942.4L1035.1 1951.9L1038.1 1960.3L1040.1 1964.8L1042.1 1968.5L1043.1 1969.9L1044.1 1970.5L1045.1 1970.3L1046.1 1969.8L1047.1 1969.7L1049.1 1970.3L1050.1 1970.3L1052.1 1969.6L1053.1 1968.9L1054.1 1967.8L1055.1 1966.2L1056.1 1964.3L1058.1 1959.3L1060.1 1952.7L1061.1 1948.4L1063.1 1937.9L1067.1 1912.6L1069.1 1896.9L1075.1 1840.6L1081.1 1795.0L1084.1 1770.1L1085.1 1765.1L1086.1 1764.2L1087.1 1764.2L1088.1 1762.9L1089.1 1760.8L1090.1 1761.6L1091.1 1765.7L1097.1 1796.8L1106.1 1839.0L1109.1 1851.2L1110.1 1854.1L1111.1 1856.3L1112.1 1858.0L1114.1 1860.2L1115.1 1860.4L1117.1 1859.2L1118.1 1859.9L1120.1 1863.6L1121.1 1865.1L1124.1 1868.1L1126.1 1871.9L1127.1 1873.2L1128.1 1873.2L1129.1 1872.5L1131.1 1870.0L1133.1 1866.4L1134.1 1865.2L1137.1 1863.4L1139.1 1861.5L1140.1 1861.5L1141.1 1862.9L1142.1 1865.1L1143.1 1866.7L1144.1 1866.9L1146.1 1865.8L1149.1 1865.5L1150.1 1865.8L1151.1 1866.7L1152.1 1870.2L1156.1 1889.3L1159.1 1907.2L1163.1 1933.3L1166.1 1948.9L1169.1 1963.0L1172.1 1983.2L1173.1 1987.9L1178.1 2007.2L1182.1 2025.5L1184.1 2033.8L1186.1 2040.5L1188.5 2047.3"/>
<path class="cv" d="M58.5 2162.0L84.5 2110.5L91.6 2096.0L93.5 2091.6L95.6 2087.4L96.3 2085.1L98.9 2080.9L99.2 2078.4L100.6 2076.3L101.7 2074.1L102.6 2071.8L103.1 2069.3L105.0 2067.4L105.4 2064.8L106.3 2062.5L107.7 2060.3L109.3 2055.4L111.9 2050.9L112.0 2048.1L113.8 2046.0L114.7 2043.6L115.2 2041.0L116.7 2038.8L119.4 2031.5L121.0 2029.4L121.2 2026.7L123.9 2022.3L124.2 2019.7L126.7 2015.3L127.7 2013.0L128.1 2010.5L130.0 2008.7L130.5 2006.2L131.3 2004.0L133.9 2000.0L134.2 1997.5L136.7 1993.8L137.7 1991.8L138.1 1989.5L139.7 1988.0L141.6 1984.3L142.1 1982.1L143.8 1980.8L144.7 1979.1L146.3 1975.4L147.5 1973.8L149.0 1972.5L149.3 1970.5L151.5 1967.3L152.8 1965.9L153.7 1964.3L154.1 1962.3L155.6 1961.0L157.8 1957.9L158.3 1956.0L159.2 1954.2L160.9 1953.0L163.2 1947.4L164.9 1946.0L165.7 1944.0L166.3 1941.9L167.4 1940.0L168.9 1938.2L170.3 1933.6L171.7 1931.6L172.8 1929.3L173.0 1926.6L174.9 1924.6L176.3 1919.4L177.7 1917.1L179.4 1911.8L180.6 1909.2L181.6 1906.6L182.4 1903.7L183.7 1901.0L184.4 1898.1L185.6 1895.3L186.6 1892.3L187.2 1889.1L189.0 1886.3L189.2 1882.9L190.4 1879.8L191.8 1876.7L192.4 1873.3L193.7 1870.1L194.0 1866.5L195.9 1863.4L196.5 1859.9L197.7 1856.5L198.3 1852.9L199.4 1849.4L200.8 1845.9L201.6 1842.1L202.9 1838.4L203.3 1834.5L204.6 1830.6L205.2 1826.5L206.5 1822.6L207.3 1818.5L209.6 1810.3L210.6 1806.2L211.9 1802.2L212.5 1798.1L213.9 1794.1L214.3 1789.9L215.8 1786.0L216.1 1781.8L217.7 1777.9L218.0 1773.7L219.7 1769.7L220.1 1765.3L221.7 1761.1L222.3 1756.6L224.6 1747.7L225.1 1743.1L226.7 1738.6L227.1 1733.9L228.6 1729.5L230.2 1720.3L231.6 1715.9L232.0 1711.2L233.7 1706.9L234.1 1702.3L235.5 1698.0L237.2 1689.1L238.6 1684.9L239.0 1680.4L240.7 1676.3L241.1 1671.8L242.8 1667.7L243.3 1663.4L244.8 1659.3L245.5 1655.0L246.8 1651.0L249.7 1638.8L250.4 1634.9L252.4 1627.4L253.5 1624.0L255.0 1620.7L255.1 1617.3L256.7 1614.4L258.3 1609.0L259.9 1607.4L261.3 1601.2L262.6 1600.2L263.9 1600.5L264.3 1598.5L265.4 1596.5L266.5 1595.1L267.5 1593.1L268.7 1593.2L269.7 1594.9L270.5 1594.1L271.4 1591.5L272.5 1590.1L273.5 1591.4L275.5 1592.7L276.5 1593.7L277.4 1592.9L278.5 1591.3L279.8 1593.5L281.3 1597.1L282.3 1597.0L283.6 1597.4L284.6 1598.1L285.8 1600.3L286.3 1603.2L287.2 1606.1L288.9 1604.4L289.6 1606.3L290.3 1609.5L291.5 1612.6L292.8 1615.0L293.4 1617.8L294.4 1619.8L295.9 1621.9L296.2 1625.2L297.6 1628.4L298.5 1631.5L299.7 1634.6L300.6 1637.9L301.1 1641.5L302.8 1644.9L303.4 1648.7L305.1 1652.3L305.4 1656.4L306.9 1660.5L307.4 1664.9L309.8 1673.9L310.4 1678.9L312.1 1683.7L313.1 1694.4L314.6 1699.6L315.7 1705.1L316.4 1710.7L318.6 1721.9L319.4 1727.6L321.7 1739.0L323.4 1750.7L326.8 1768.3L327.3 1774.4L328.2 1780.5L330.0 1786.4L330.8 1792.5L331.2 1798.8L334.8 1817.1L335.8 1823.3L336.0 1829.7L338.8 1842.0L340.7 1854.6L341.0 1861.1L343.8 1873.6L345.7 1886.4L346.0 1892.9L347.5 1899.2L349.9 1911.9L350.7 1918.2L351.0 1924.7L352.5 1930.9L354.9 1943.4L355.7 1949.7L356.0 1956.1L357.5 1962.3L359.9 1974.9L360.7 1981.4L361.1 1988.1L362.4 1994.6L363.3 2001.3L365.0 2007.9L365.7 2014.7L366.9 2021.3L367.1 2027.9L371.8 2052.5L372.2 2058.2L374.7 2069.1L375.3 2074.4L376.9 2079.5L377.9 2084.6L378.2 2089.8L379.6 2094.8L381.1 2104.9L382.9 2109.8L383.6 2114.8L384.6 2119.8L386.1 2124.7L386.3 2129.8L388.6 2139.6L389.0 2144.5L390.6 2149.2L391.3 2154.0L393.6 2163.0L394.3 2167.5L395.6 2171.7L396.3 2175.9L400.5 2190.8L402.5 2197.2L406.5 2207.8L410.5 2216.1L415.5 2224.5L418.5 2228.8L421.5 2232.6L424.5 2235.8L426.5 2237.8L429.5 2240.1L431.5 2241.4L435.5 2243.0L442.5 2244.6L444.5 2245.6L446.5 2247.5L449.5 2251.8L452.5 2258.1L454.5 2263.5L462.5 2289.1L466.5 2300.4L468.5 2305.2L471.5 2311.6L474.5 2317.3L476.5 2320.4L479.5 2323.8L482.5 2326.3L486.5 2329.0L493.5 2332.5L495.5 2334.0L498.5 2336.9L502.5 2341.8L508.5 2350.0L522.5 2371.2L525.5 2375.4L529.5 2379.9L531.5 2381.7L533.5 2383.2L535.5 2384.3L537.5 2385.1L539.5 2385.5L541.5 2385.6L543.5 2385.4L546.5 2384.8L553.5 2382.6L555.5 2382.6L556.5 2382.9L558.5 2384.2L560.5 2386.2L562.5 2388.7L568.5 2397.0L571.5 2400.4L574.5 2403.4L576.5 2405.2L579.5 2407.3L582.5 2408.8L585.5 2409.9L588.5 2410.4L590.5 2410.5L593.5 2410.1L595.5 2409.5L598.5 2408.2L601.5 2406.5L608.5 2401.6L610.5 2400.4L612.5 2399.7L614.5 2399.7L617.5 2400.9L627.5 2406.6L635.5 2410.7L641.5 2413.5L647.5 2415.9L652.5 2417.4L659.5 2418.8L665.5 2419.4L670.5 2419.2L674.5 2418.8L679.5 2417.8L683.5 2416.7L692.5 2413.4L694.5 2412.9L699.5 2412.3L701.5 2411.7L738.5 2393.1L743.5 2390.2L763.5 2377.5L768.5 2374.5L771.5 2372.9L775.5 2371.6L779.5 2370.9L784.5 2370.6L791.5 2370.7L795.5 2370.6L799.5 2370.1L803.5 2369.2L807.5 2367.6L812.5 2364.7L817.5 2361.2L822.5 2357.0L825.5 2354.1L828.5 2350.8L836.5 2341.0L844.5 2330.2L852.5 2318.1L854.5 2315.4L857.5 2312.0L861.5 2308.3L864.5 2306.2L867.5 2304.7L874.5 2302.1L876.5 2301.1L878.5 2299.8L881.5 2297.3L883.5 2295.3L887.5 2290.4L889.5 2287.3L892.5 2282.2L897.5 2271.8L903.5 2257.6L914.5 2230.0L920.5 2215.4L925.5 2204.4L929.5 2196.5L932.5 2191.7L935.5 2188.0L937.5 2186.4L941.5 2183.9L943.5 2182.3L947.5 2178.5L951.5 2174.2L956.5 2167.7L962.5 2158.3L964.5 2154.5L967.5 2147.8L971.5 2137.9L976.5 2124.4L977.5 2122.0L980.5 2116.3L982.5 2111.3L989.5 2090.1L994.5 2070.5L998.5 2056.6L1001.5 2044.5L1003.5 2037.5L1005.5 2031.3L1007.5 2025.9L1008.5 2023.6L1011.5 2017.6L1012.5 2015.0L1013.5 2013.8L1015.5 2014.7L1017.5 2013.1L1018.5 2014.1L1020.5 2019.4L1022.5 2026.0L1026.5 2044.0L1029.5 2051.8L1032.5 2062.9L1033.5 2065.8L1038.5 2077.4L1041.5 2082.9L1042.5 2084.3L1043.5 2085.3L1044.5 2084.9L1045.5 2083.9L1046.5 2084.4L1048.5 2086.3L1049.5 2086.2L1051.5 2084.2L1052.5 2083.8L1054.5 2084.8L1055.5 2084.0L1057.5 2076.7L1058.5 2075.5L1059.5 2074.9L1060.5 2072.8L1062.5 2064.0L1063.5 2061.0L1065.5 2056.4L1066.5 2051.8L1069.5 2031.4L1071.5 2021.6L1072.5 2015.5L1078.5 1955.1L1080.5 1938.3L1083.5 1916.3L1084.5 1905.3L1085.5 1896.8L1087.5 1891.3L1089.5 1879.1L1090.5 1875.1L1091.5 1879.4L1092.5 1885.7L1093.5 1888.9L1094.5 1890.0L1095.5 1890.4L1096.5 1890.0L1097.5 1893.9L1098.5 1903.7L1099.5 1911.2L1100.5 1915.4L1101.5 1914.9L1102.5 1916.2L1104.5 1933.7L1105.5 1935.8L1106.5 1935.8L1107.5 1940.5L1108.5 1947.3L1109.5 1951.3L1110.5 1953.0L1111.5 1953.6L1112.5 1952.7L1113.5 1954.1L1114.5 1959.2L1115.5 1962.2L1117.5 1957.8L1118.5 1958.2L1119.5 1959.8L1121.5 1967.3L1122.5 1965.9L1123.5 1961.4L1124.5 1958.2L1125.5 1959.3L1126.5 1963.3L1127.5 1964.0L1128.5 1961.6L1129.5 1958.5L1130.5 1956.6L1131.5 1957.4L1132.5 1957.8L1134.5 1952.7L1135.5 1951.0L1137.5 1962.3L1138.5 1962.3L1139.5 1958.4L1140.5 1958.7L1142.5 1965.5L1143.5 1966.0L1145.5 1957.4L1146.5 1955.1L1147.5 1954.7L1149.5 1960.9L1150.5 1961.2L1151.5 1960.5L1152.5 1962.7L1154.5 1981.2L1155.5 1983.5L1156.5 1983.9L1157.5 1988.2L1159.5 2007.2L1164.5 2049.9L1166.5 2063.5L1168.5 2073.5L1169.5 2079.6L1171.5 2093.6L1172.5 2099.1L1174.5 2106.3L1175.5 2111.0L1178.5 2131.2L1181.5 2147.5L1182.5 2151.1L1184.5 2155.8L1185.5 2159.0L1187.5 2167.7L1189.3 2177.5"/>
<path d="M58.2 44V2435" stroke="#0a0a0a" stroke-width="2.7" fill="none"/>
<path d="M56.85 2435H1190.3" stroke="#0a0a0a" stroke-width="3.5" fill="none"/>
<line class="tk" x1="68.4" y1="2435" x2="68.4" y2="2443.0"/>
<line class="tk" x1="104.5" y1="2435" x2="104.5" y2="2451.4"/>
<line class="tk" x1="140.7" y1="2435" x2="140.7" y2="2443.0"/>
<line class="tk" x1="176.8" y1="2435" x2="176.8" y2="2451.4"/>
<line class="tk" x1="212.9" y1="2435" x2="212.9" y2="2443.0"/>
<line class="tk" x1="249.1" y1="2435" x2="249.1" y2="2451.4"/>
<line class="tk" x1="285.2" y1="2435" x2="285.2" y2="2443.0"/>
<line class="tk" x1="321.3" y1="2435" x2="321.3" y2="2451.4"/>
<line class="tk" x1="357.5" y1="2435" x2="357.5" y2="2443.0"/>
<line class="tk" x1="393.6" y1="2435" x2="393.6" y2="2451.4"/>
<line class="tk" x1="429.7" y1="2435" x2="429.7" y2="2443.0"/>
<line class="tk" x1="465.9" y1="2435" x2="465.9" y2="2451.4"/>
<line class="tk" x1="502.0" y1="2435" x2="502.0" y2="2443.0"/>
<line class="tk" x1="538.2" y1="2435" x2="538.2" y2="2451.4"/>
<line class="tk" x1="574.3" y1="2435" x2="574.3" y2="2443.0"/>
<line class="tk" x1="610.4" y1="2435" x2="610.4" y2="2451.4"/>
<line class="tk" x1="646.6" y1="2435" x2="646.6" y2="2443.0"/>
<line class="tk" x1="682.7" y1="2435" x2="682.7" y2="2451.4"/>
<line class="tk" x1="718.8" y1="2435" x2="718.8" y2="2443.0"/>
<line class="tk" x1="755.0" y1="2435" x2="755.0" y2="2451.4"/>
<line class="tk" x1="791.1" y1="2435" x2="791.1" y2="2443.0"/>
<line class="tk" x1="827.2" y1="2435" x2="827.2" y2="2451.4"/>
<line class="tk" x1="863.4" y1="2435" x2="863.4" y2="2443.0"/>
<line class="tk" x1="899.5" y1="2435" x2="899.5" y2="2451.4"/>
<line class="tk" x1="935.6" y1="2435" x2="935.6" y2="2443.0"/>
<line class="tk" x1="971.8" y1="2435" x2="971.8" y2="2451.4"/>
<line class="tk" x1="1007.9" y1="2435" x2="1007.9" y2="2443.0"/>
<line class="tk" x1="1044.0" y1="2435" x2="1044.0" y2="2451.4"/>
<line class="tk" x1="1080.2" y1="2435" x2="1080.2" y2="2443.0"/>
<line class="tk" x1="1116.3" y1="2435" x2="1116.3" y2="2451.4"/>
<line class="tk" x1="1152.4" y1="2435" x2="1152.4" y2="2443.0"/>
<line class="tk" x1="1188.6" y1="2435" x2="1188.6" y2="2451.4"/>
<text class="s34" x="178.2" y="2484" text-anchor="middle">1100</text>
<text class="s34" x="324.0" y="2484" text-anchor="middle">1000</text>
<text class="s34" x="468.3" y="2484" text-anchor="middle">900</text>
<text class="s34" x="607.8" y="2484" text-anchor="middle">800</text>
<text class="s34" x="757.3" y="2484" text-anchor="middle">700</text>
<text class="s34" x="897.5" y="2484" text-anchor="middle">600</text>
<text class="s34" x="1045.5" y="2484" text-anchor="middle">500</text>
<text class="s34" x="1185.3" y="2484" text-anchor="middle">400</text>
<text class="s48" x="403.8" y="2529.5" style="font-size:49.2px">Wavenumber (cm<tspan dy="-14" style="font-size:32.5px">-1</tspan><tspan dy="14">)</tspan></text>
<text class="s48" transform="translate(35.3 1232.3) rotate(-90)" style="font-size:49.6px">Relative absorbance</text>
<text class="s36" x="139" y="26.5" style="font-size:37px">Si-O-Si (1030)</text>
<text class="s36" transform="translate(452.0 407.7) rotate(-90)">AlAlOH(914-917)</text>
<text class="s36" transform="translate(503.6 469.9) rotate(-90)">AlFeOH (874-877)</text>
<text class="s36" transform="translate(556.0 511.4) rotate(-90)">AlMgOH (838-842)</text>
<text class="s36" transform="translate(611.4 550.6) rotate(-90)">δSiO cristobalite (800)</text>
<text class="s36" transform="translate(780.9 512.2) rotate(-90)">Fe-O out of plane (685)</text>
<text class="s36" transform="translate(872.6 423.6) rotate(-90)">Al-O out of plane (625)</text>
<text class="s36" transform="translate(793.6 1760.5) rotate(-90)">670</text>
<text class="s38" x="628" y="531.5">MTO14</text>
<text class="s38" x="622" y="695">SE2M10</text>
<text class="s38" x="629.5" y="814">SE3M10</text>
<text class="s38" x="622" y="930">SE4M4</text>
<text class="s38" x="622" y="1093.5">SE1M7</text>
<text class="s38" x="602" y="1192.3">SE1M16</text>
<text class="s38" x="622" y="1328.7">SE3M12</text>
<text class="s38" x="622" y="1572">SE3M26</text>
<text class="s38" x="622" y="1687">SE6M10</text>
<text class="s38" x="622" y="1786.5">SE6M19</text>
<text class="s38" x="622" y="1966">SE8M3</text>
<text class="s38" x="622" y="2110">SE8M6</text>
<text class="s38" x="581.5" y="2206.3">SE10M12</text>
<text class="s38" x="622" y="2345.7">SE10M23</text>
<line x1="675" y1="2425.8" x2="686.5" y2="2425.8" stroke="#c4c4c4" stroke-width="1.2"/>
<path class="br" d="M1189.5 196.6 Q1207 196.4 1213.2 199 V692.6 Q1207 694.6 1189.5 695"/>
<path class="br" d="M1189.5 754.8 Q1207 754.8 1213.2 757.2 V2385.2 Q1207 2387.2 1189.5 2387.6"/>
<text class="s41" x="1317.5" y="400.6" text-anchor="middle">Distal</text>
<text class="s41" x="1318.5" y="451" text-anchor="middle">Samples</text>
<text class="s41" x="1317" y="1445.7" text-anchor="middle">Proximal</text>
<text class="s41" x="1318.5" y="1496.6" text-anchor="middle">Samples</text>
<text class="s41" x="1253.8" y="1830">Distance</text>
<text class="s41" x="1259.8" y="1880">to dome</text>
<path d="M1233.4 1711.5 L1245.3 1735 H1237.2 V1970 H1229.6 V1735 H1221.5 Z" fill="#1a1a1a"/>
</svg></body></html>
